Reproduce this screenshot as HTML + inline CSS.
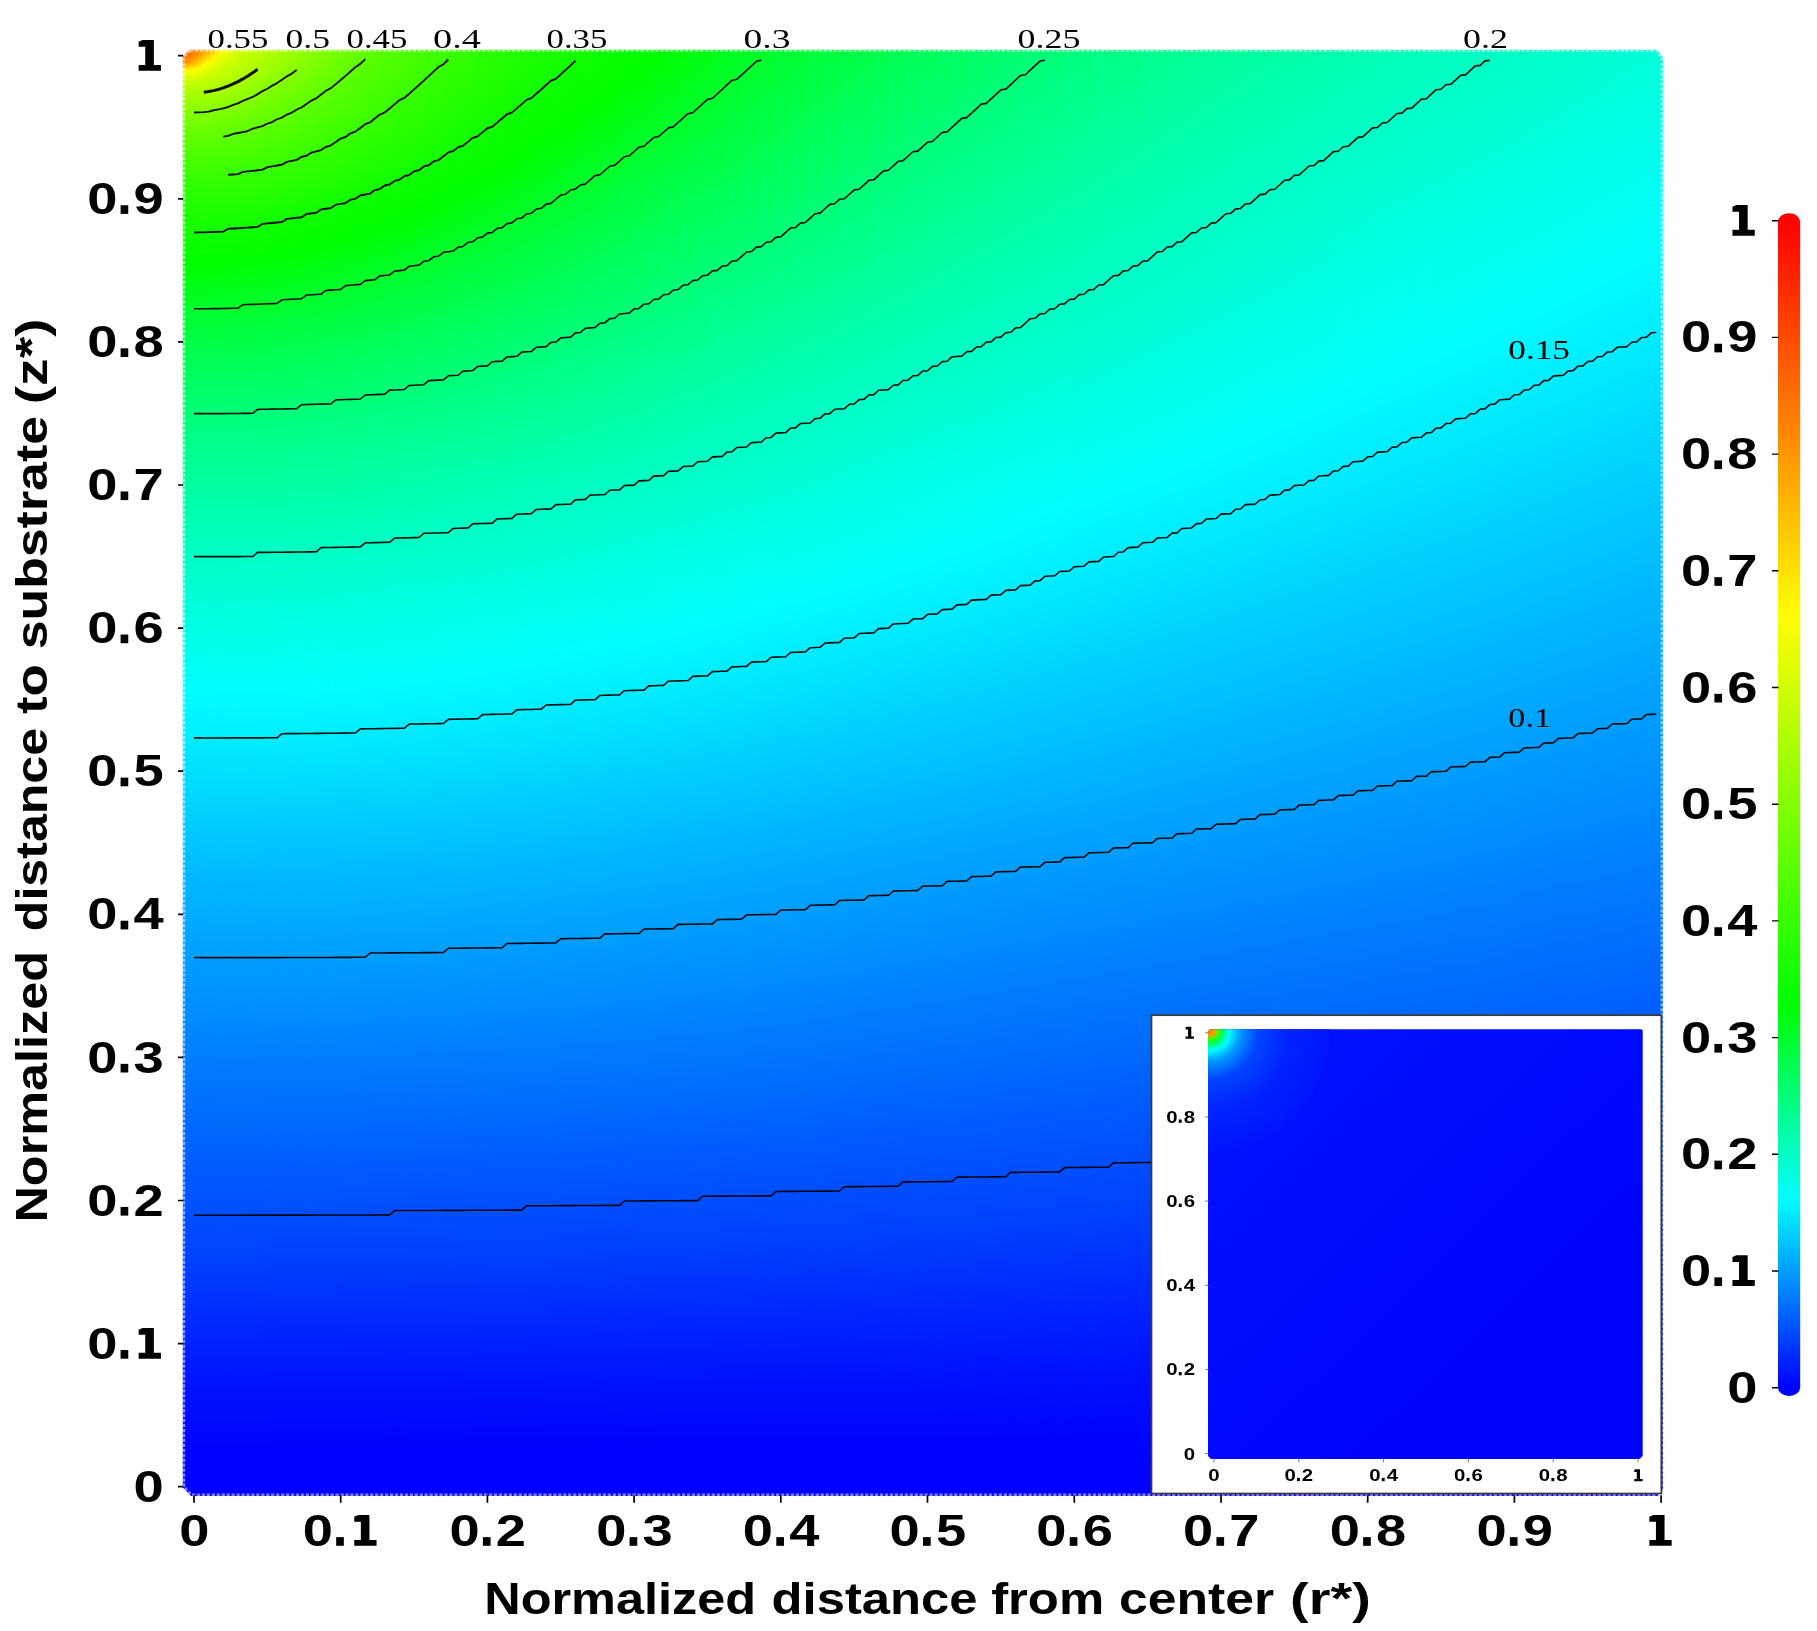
<!DOCTYPE html>
<html><head><meta charset="utf-8"><title>chart</title>
<style>
html,body{margin:0;padding:0;background:#fff}
#w{position:relative;width:1817px;height:1631px;overflow:hidden;background:#fff}
#h{position:absolute;left:182px;top:47px;width:1484px;height:1452px;clip-path:polygon(7.5px 2.7px,1475.0px 2.7px,1481.0px 10.5px,1481.0px 1443.0px,1475.5px 1449.0px,9.0px 1449.0px,0.8px 1440.5px,0.8px 9.5px);font-size:0;white-space:nowrap}
#h i{display:inline-block;width:4px;height:100%}
#s{position:absolute;left:0;top:0;will-change:transform}
</style></head><body><div id="w"><div id="h"><i style="background:linear-gradient(#ff6c00 0%,#ff7200 0.6887%,#ff7a00 0.8264%,#ff8f00 1.033%,#ff9600 1.102%,#ffa100 1.171%,#fff100 1.584%,#fffa00 1.653%,#fcff00 1.722%,#e3ff00 1.997%,#cdff00 2.342%,#b4ff00 2.893%,#97ff00 3.788%,#72ff00 5.303%,#53ff00 6.956%,#36ff00 9.022%,#17ff00 12.05%,#00ff01 14.94%,#00ff2f 18.32%,#00ff60 22.73%,#00ff90 27.96%,#00ffc4 34.92%,#00fffc 43.66%,#00fdff 44.56%,#00bfff 55.85%,#007dff 69.77%,#0041ff 83.4%,#01f 92.42%,#0003ff 96.56%,#00f 100%)"></i><i style="background:linear-gradient(#ff6e00 0%,#ff7200 0.4821%,#ff7a00 0.6887%,#ff8f00 0.9642%,#ff9e00 1.102%,#ffcf00 1.377%,#ffe900 1.515%,#fff400 1.584%,#fffd00 1.653%,#f3ff00 1.791%,#df0 2.066%,#c5ff00 2.479%,#af0 3.168%,#8cff00 4.201%,#68ff00 5.785%,#46ff00 7.782%,#2aff00 10.06%,#07ff00 13.98%,#00ff01 14.94%,#00ff2f 18.32%,#00ff60 22.73%,#00ff90 27.96%,#00ffc4 34.92%,#00fffc 43.66%,#00fdff 44.56%,#00bfff 55.85%,#007dff 69.77%,#0041ff 83.4%,#01f 92.42%,#0003ff 96.56%,#00f 100%)"></i><i style="background:linear-gradient(#ff7100 0%,#ff7a00 0.3444%,#ff8a00 0.6887%,#ff9600 0.8953%,#ffa500 1.033%,#ffc400 1.24%,#fff200 1.515%,#fffb00 1.584%,#fcff00 1.653%,#e4ff00 1.928%,#ceff00 2.273%,#b6ff00 2.824%,#95ff00 3.857%,#70ff00 5.372%,#51ff00 7.094%,#34ff00 9.16%,#15ff00 12.33%,#00ff01 14.94%,#00ff2f 18.32%,#00ff60 22.73%,#00ff90 27.96%,#00ffc4 34.92%,#00fffc 43.66%,#00fdff 44.56%,#00bfff 55.85%,#007dff 69.77%,#0041ff 83.4%,#01f 92.42%,#0003ff 96.56%,#00f 100%)"></i><i style="background:linear-gradient(#ff7e00 0%,#ff9100 0.551%,#ff9c00 0.7576%,#ffb900 1.033%,#ffcb00 1.171%,#fff500 1.446%,#fffc00 1.515%,#fbff00 1.584%,#dfff00 1.928%,#cf0 2.273%,#b3ff00 2.893%,#8fff00 4.063%,#6cff00 5.579%,#4bff00 7.438%,#2fff00 9.573%,#0fff00 13.02%,#00ff01 14.94%,#00ff2f 18.32%,#00ff60 22.73%,#00ff90 27.96%,#00ffc4 34.92%,#00fffc 43.66%,#00fdff 44.56%,#00bfff 55.85%,#007dff 69.77%,#0041ff 83.4%,#01f 92.42%,#0003ff 96.56%,#00f 100%)"></i><i style="background:linear-gradient(#ff8c00 0%,#f90 0.4132%,#ffa600 0.6198%,#ffbe00 0.8953%,#ffd800 1.102%,#fff300 1.309%,#feff00 1.446%,#e3ff00 1.791%,#cfff00 2.135%,#b7ff00 2.755%,#8cff00 4.201%,#68ff00 5.785%,#46ff00 7.782%,#2aff00 10.06%,#08ff00 13.84%,#00ff01 14.94%,#00ff2f 18.32%,#00ff60 22.73%,#00ff90 27.96%,#00ffc4 34.92%,#00fffc 43.66%,#00fdff 44.56%,#00bfff 55.85%,#007dff 69.77%,#0041ff 83.4%,#01f 92.42%,#0003ff 96.56%,#00f 100%)"></i><i style="background:linear-gradient(#ff9700 0%,#ffa300 0.2755%,#ffbf00 0.6887%,#fd0 0.9642%,#fff400 1.171%,#feff00 1.309%,#e0ff00 1.722%,#ceff00 2.066%,#b5ff00 2.755%,#87ff00 4.339%,#65ff00 5.923%,#43ff00 7.989%,#26ff00 10.47%,#03ff00 14.53%,#00ff01 14.94%,#00ff30 18.39%,#00ff61 22.8%,#00ff90 28.03%,#00ffc5 35.06%,#00fffd 43.87%,#00fcff 44.7%,#00bfff 55.99%,#007cff 69.97%,#0041ff 83.4%,#01f 92.42%,#0003ff 96.56%,#00f 100%)"></i><i style="background:linear-gradient(#ffa800 0%,#ffbf00 0.4132%,#ffd700 0.6887%,#fff800 1.033%,#fffd00 1.102%,#f7ff00 1.24%,#d8ff00 1.722%,#c4ff00 2.204%,#87ff00 4.339%,#64ff00 5.923%,#43ff00 7.989%,#26ff00 10.47%,#03ff00 14.46%,#00ff01 14.94%,#00ff30 18.39%,#00ff61 22.8%,#00ff90 28.03%,#00ffc5 35.06%,#00fffd 43.87%,#00fcff 44.7%,#00bfff 55.99%,#007cff 69.97%,#0041ff 83.4%,#01f 92.42%,#0003ff 96.56%,#00f 100%)"></i><i style="background:linear-gradient(#ffba00 0%,#ffc600 0.2066%,#fff800 0.8264%,#fdff00 0.9642%,#dbff00 1.515%,#c7ff00 1.997%,#82ff00 4.477%,#61ff00 6.061%,#40ff00 8.196%,#21ff00 10.88%,#0f0 14.81%,#00ff32 18.6%,#00ff63 23.07%,#00ff94 28.44%,#00ffc9 35.67%,#0ff 44.28%,#00c1ff 55.51%,#007eff 69.56%,#0041ff 83.4%,#01f 92.42%,#0003ff 96.56%,#00f 100%)"></i><i style="background:linear-gradient(#ffce00 0%,#fffa00 0.6198%,#fffe00 0.6887%,#d9ff00 1.377%,#c5ff00 1.928%,#7fff00 4.545%,#5eff00 6.198%,#3dff00 8.402%,#1eff00 11.23%,#00ff01 14.88%,#00ff30 18.39%,#00ff61 22.87%,#00ff91 28.17%,#00ffc6 35.26%,#00fffe 44.15%,#00b9ff 57.16%,#07f 71.21%,#0041ff 83.4%,#01f 92.42%,#0003ff 96.56%,#00f 100%)"></i><i style="background:linear-gradient(#ffe500 0%,#fffd00 0.4132%,#f9ff00 0.551%,#d7ff00 1.24%,#c3ff00 1.86%,#a1ff00 3.237%,#81ff00 4.408%,#60ff00 6.061%,#3eff00 8.264%,#1fff00 11.09%,#0f0 14.81%,#00ff2f 18.32%,#00ff61 22.8%,#00ff91 28.1%,#00ffc6 35.19%,#00fffe 44.08%,#00b5ff 57.92%,#0073ff 72.11%,#0041ff 83.4%,#01f 92.42%,#0003ff 96.56%,#00f 100%)"></i><i style="background:linear-gradient(#fff700 0%,#fffe00 0.1377%,#d4ff00 1.102%,#c0ff00 1.86%,#a2ff00 3.099%,#81ff00 4.339%,#5fff00 6.061%,#3dff00 8.333%,#1dff00 11.29%,#00ff01 14.81%,#00ff2f 18.32%,#00ff61 22.8%,#00ff91 28.1%,#00ffc6 35.19%,#00fffe 44.08%,#00b5ff 57.92%,#0073ff 72.18%,#0040ff 83.47%,#01f 92.42%,#0003ff 96.56%,#00f 100%)"></i><i style="background:linear-gradient(#f8ff00 0%,#d6ff00 0.8264%,#c2ff00 1.584%,#a5ff00 2.893%,#81ff00 4.27%,#5fff00 5.992%,#3dff00 8.333%,#1cff00 11.36%,#00ff01 14.81%,#00ff30 18.39%,#00ff62 22.87%,#00ff92 28.17%,#00ffc7 35.33%,#0ff 44.21%,#00beff 56.2%,#007bff 70.32%,#0041ff 83.4%,#01f 92.42%,#0003ff 96.56%,#00f 100%)"></i><i style="background:linear-gradient(#ebff00 0%,#d3ff00 0.6887%,#bdff00 1.653%,#a6ff00 2.755%,#82ff00 4.132%,#61ff00 5.854%,#3eff00 8.196%,#1dff00 11.23%,#0f0 14.74%,#00ff30 18.32%,#00ff62 22.87%,#00ff92 28.24%,#00ffc8 35.47%,#0ff 44.21%,#00beff 56.2%,#007aff 70.39%,#0041ff 83.4%,#01f 92.42%,#0003ff 96.56%,#00f 100%)"></i><i style="background:linear-gradient(#e0ff00 0%,#cf0 0.6887%,#a7ff00 2.617%,#81ff00 4.063%,#60ff00 5.854%,#3dff00 8.264%,#1bff00 11.43%,#00ff01 14.74%,#00ff30 18.32%,#00ff62 22.87%,#00ff92 28.24%,#00ffc8 35.47%,#0ff 44.21%,#00beff 56.13%,#007bff 70.32%,#0041ff 83.4%,#01f 92.42%,#0003ff 96.56%,#00f 100%)"></i><i style="background:linear-gradient(#d6ff00 0%,#c2ff00 0.9642%,#a8ff00 2.41%,#80ff00 3.994%,#5fff00 5.854%,#3cff00 8.333%,#19ff00 11.57%,#0f0 14.67%,#00ff30 18.25%,#00ff61 22.8%,#00ff92 28.17%,#00ffc7 35.4%,#0ff 44.21%,#00beff 56.06%,#007bff 70.32%,#0041ff 83.4%,#01f 92.42%,#0003ff 96.56%,#00f 100%)"></i><i style="background:linear-gradient(#cfff00 0%,#a8ff00 2.273%,#81ff00 3.857%,#5eff00 5.785%,#3bff00 8.333%,#18ff00 11.64%,#00ff01 14.67%,#00ff31 18.32%,#00ff62 22.87%,#00ff92 28.24%,#00ffc8 35.47%,#0ff 44.21%,#00bfff 55.99%,#007bff 70.25%,#0041ff 83.4%,#01f 92.42%,#0003ff 96.56%,#00f 100%)"></i><i style="background:linear-gradient(#c9ff00 0%,#af0 1.997%,#80ff00 3.788%,#5dff00 5.785%,#39ff00 8.471%,#16ff00 11.85%,#0f0 14.6%,#00ff30 18.25%,#00ff62 22.8%,#00ff92 28.17%,#00ffc8 35.4%,#0ff 44.21%,#00bfff 55.92%,#007bff 70.25%,#0041ff 83.4%,#01f 92.42%,#0003ff 96.56%,#00f 100%)"></i><i style="background:linear-gradient(#c5ff00 0%,#abff00 1.791%,#80ff00 3.65%,#5cff00 5.785%,#37ff00 8.54%,#14ff00 11.98%,#00ff01 14.6%,#00ff31 18.25%,#00ff63 22.87%,#00ff93 28.31%,#00ffc9 35.61%,#0ff 44.21%,#00c0ff 55.79%,#007cff 70.11%,#0041ff 83.4%,#01f 92.42%,#0003ff 96.56%,#00f 100%)"></i><i style="background:linear-gradient(#c1ff00 0%,#abff00 1.584%,#7fff00 3.581%,#5bff00 5.785%,#36ff00 8.609%,#13ff00 12.05%,#0f0 14.53%,#00ff30 18.18%,#00ff62 22.8%,#00ff93 28.24%,#00ffc9 35.54%,#0ff 44.21%,#00c0ff 55.65%,#007cff 70.04%,#0041ff 83.4%,#01f 92.42%,#0003ff 96.56%,#00f 100%)"></i><i style="background:linear-gradient(#bdff00 0%,#a9ff00 1.515%,#80ff00 3.375%,#5bff00 5.647%,#35ff00 8.609%,#13ff00 12.05%,#00ff01 14.53%,#00ff31 18.25%,#00ff63 22.87%,#00ff94 28.37%,#00ffca 35.74%,#0ff 44.21%,#00c1ff 55.51%,#007cff 69.97%,#0041ff 83.4%,#01f 92.42%,#0003ff 96.56%,#00f 100%)"></i><i style="background:linear-gradient(#baff00 0%,#a7ff00 1.377%,#80ff00 3.237%,#5aff00 5.647%,#34ff00 8.678%,#1f0 12.19%,#00ff01 14.46%,#00ff31 18.18%,#00ff63 22.8%,#00ff94 28.31%,#00ffca 35.67%,#0ff 44.21%,#00c1ff 55.44%,#007dff 69.9%,#0041ff 83.4%,#01f 92.42%,#0003ff 96.56%,#00f 100%)"></i><i style="background:linear-gradient(#b7ff00 0%,#a6ff00 1.24%,#80ff00 3.099%,#58ff00 5.647%,#31ff00 8.884%,#10ff00 12.33%,#0f0 14.39%,#00ff31 18.11%,#00ff62 22.73%,#00ff93 28.24%,#00ffc9 35.61%,#0ff 44.21%,#00c1ff 55.44%,#007cff 69.97%,#0040ff 83.4%,#01f 92.42%,#0003ff 96.56%,#00f 100%)"></i><i style="background:linear-gradient(#b4ff00 0%,#a3ff00 1.171%,#7fff00 2.961%,#58ff00 5.579%,#30ff00 8.953%,#0fff00 12.4%,#00ff01 14.39%,#00ff31 18.11%,#00ff63 22.8%,#00ff95 28.37%,#00ffcb 35.81%,#0ff 44.21%,#00c1ff 55.44%,#007cff 69.97%,#0040ff 83.4%,#01f 92.42%,#0003ff 96.56%,#00f 100%)"></i><i style="background:linear-gradient(#b0ff00 0%,#a0ff00 1.102%,#7eff00 2.893%,#56ff00 5.647%,#2cff00 9.229%,#0dff00 12.6%,#00ff01 14.33%,#00ff32 18.11%,#00ff64 22.8%,#00ff95 28.44%,#0fc 35.95%,#0ff 44.21%,#00c1ff 55.44%,#007cff 70.04%,#0040ff 83.4%,#01f 92.36%,#0003ff 96.49%,#00f 100%)"></i><i style="background:linear-gradient(#adff00 0%,#9aff00 1.171%,#7bff00 2.893%,#53ff00 5.716%,#28ff00 9.573%,#09ff00 12.95%,#00ff01 14.26%,#00ff31 18.04%,#00ff63 22.73%,#00ff95 28.37%,#0fc 35.88%,#0ff 44.21%,#00c1ff 55.44%,#007cff 70.04%,#0040ff 83.4%,#01f 92.36%,#0003ff 96.49%,#00f 100%)"></i><i style="background:linear-gradient(#a9ff00 0%,#76ff00 3.099%,#4eff00 5.992%,#20ff00 10.26%,#02ff00 13.84%,#00ff01 14.26%,#00ff32 18.04%,#00ff64 22.8%,#00ff96 28.51%,#00ffcd 36.09%,#0ff 44.21%,#00c1ff 55.51%,#007bff 70.18%,#0040ff 83.4%,#01f 92.36%,#0003ff 96.49%,#00f 100%)"></i><i style="background:linear-gradient(#a5ff00 0%,#75ff00 2.961%,#4fff00 5.854%,#1eff00 10.4%,#0f0 14.05%,#00ff37 18.46%,#00ff69 23.28%,#00ff9b 29.13%,#00ffd3 36.91%,#0ff 44.21%,#00c1ff 55.51%,#007bff 70.18%,#0040ff 83.4%,#01f 92.36%,#0003ff 96.49%,#00f 100%)"></i><i style="background:linear-gradient(#a1ff00 0%,#71ff00 3.099%,#4bff00 6.061%,#1aff00 10.81%,#00ff01 14.12%,#00ff31 17.91%,#00ff64 22.66%,#00ff96 28.37%,#0fc 35.95%,#0ff 44.15%,#00c1ff 55.44%,#007bff 70.18%,#0040ff 83.4%,#01f 92.36%,#0003ff 96.49%,#00f 100%)"></i><i style="background:linear-gradient(#9dff00 0%,#65ff00 3.788%,#3cff00 7.3%,#13ff00 11.5%,#00ff01 14.05%,#00ff32 17.91%,#00ff65 22.73%,#00ff97 28.51%,#00ffce 36.16%,#0ff 44.15%,#00c1ff 55.44%,#007bff 70.18%,#0040ff 83.4%,#01f 92.36%,#0003ff 96.49%,#00f 100%)"></i><i style="background:linear-gradient(#9f0 0%,#5eff00 4.201%,#2fff00 8.471%,#0dff00 12.12%,#00ff01 13.98%,#00ff32 17.84%,#00ff64 22.66%,#00ff97 28.51%,#00ffce 36.16%,#0ff 44.15%,#00c1ff 55.44%,#007bff 70.25%,#0040ff 83.4%,#01f 92.36%,#0003ff 96.49%,#00f 100%)"></i><i style="background:linear-gradient(#95ff00 0%,#5bff00 4.27%,#28ff00 9.091%,#09ff00 12.6%,#00ff01 13.91%,#00ff31 17.77%,#00ff64 22.59%,#00ff97 28.44%,#00ffce 36.09%,#0ff 44.15%,#00c1ff 55.44%,#007bff 70.25%,#0040ff 83.4%,#01f 92.36%,#0003ff 96.49%,#00f 100%)"></i><i style="background:linear-gradient(#91ff00 0%,#58ff00 4.339%,#21ff00 9.642%,#03ff00 13.36%,#00ff01 13.84%,#00ff31 17.7%,#00ff64 22.52%,#00ff96 28.37%,#00ffce 36.02%,#00feff 44.15%,#00c1ff 55.44%,#007bff 70.32%,#0040ff 83.4%,#01f 92.36%,#0003ff 96.49%,#00f 100%)"></i><i style="background:linear-gradient(#8dff00 0%,#56ff00 4.408%,#1cff00 10.12%,#00ff01 13.77%,#00ff31 17.63%,#00ff64 22.52%,#00ff97 28.44%,#00ffcf 36.16%,#00feff 44.15%,#00c1ff 55.51%,#007aff 70.39%,#0040ff 83.4%,#01f 92.36%,#0003ff 96.49%,#00f 100%)"></i><i style="background:linear-gradient(#89ff00 0%,#52ff00 4.545%,#18ff00 10.54%,#00ff01 13.71%,#00ff31 17.56%,#00ff64 22.45%,#00ff97 28.37%,#00ffce 36.09%,#0ff 44.08%,#00c1ff 55.44%,#007aff 70.39%,#0040ff 83.4%,#01f 92.36%,#0003ff 96.49%,#00f 100%)"></i><i style="background:linear-gradient(#85ff00 0%,#50ff00 4.614%,#16ff00 10.67%,#00ff01 13.64%,#00ff32 17.56%,#00ff64 22.45%,#00ff98 28.44%,#00ffcf 36.16%,#0ff 44.08%,#00c1ff 55.44%,#007aff 70.39%,#0040ff 83.4%,#01f 92.36%,#0003ff 96.49%,#00f 100%)"></i><i style="background:linear-gradient(#82ff00 0%,#4eff00 4.614%,#14ff00 10.74%,#00ff01 13.57%,#00ff32 17.49%,#00ff65 22.45%,#0f9 28.51%,#00ffd0 36.29%,#00feff 44.08%,#00c1ff 55.44%,#007aff 70.45%,#0040ff 83.4%,#01f 92.36%,#0003ff 96.49%,#00f 100%)"></i><i style="background:linear-gradient(#7fff00 0%,#4bff00 4.752%,#13ff00 10.81%,#00ff01 13.5%,#00ff32 17.42%,#00ff65 22.38%,#00ff98 28.44%,#00ffd0 36.23%,#00feff 44.08%,#00c1ff 55.44%,#007aff 70.45%,#0040ff 83.4%,#01f 92.36%,#0003ff 96.49%,#00f 100%)"></i><i style="background:linear-gradient(#7cff00 0%,#48ff00 4.959%,#12ff00 10.88%,#00ff01 13.43%,#00ff32 17.36%,#00ff64 22.31%,#0f9 28.44%,#00ffd0 36.23%,#0ff 44.01%,#00c1ff 55.37%,#007aff 70.45%,#0040ff 83.4%,#01f 92.36%,#0003ff 96.49%,#00f 100%)"></i><i style="background:linear-gradient(#79ff00 0%,#43ff00 5.234%,#1f0 10.95%,#00ff01 13.36%,#00ff32 17.29%,#00ff65 22.31%,#0f9 28.51%,#00ffd1 36.36%,#00feff 44.01%,#00c1ff 55.37%,#007aff 70.45%,#0040ff 83.4%,#01f 92.36%,#0003ff 96.49%,#00f 100%)"></i><i style="background:linear-gradient(#76ff00 0%,#3dff00 5.785%,#0fff00 11.09%,#0f0 13.22%,#00ff31 17.15%,#00ff64 22.18%,#0f9 28.37%,#00ffd0 36.23%,#00feff 44.01%,#00c0ff 55.44%,#0079ff 70.59%,#0040ff 83.4%,#01f 92.36%,#0003ff 96.49%,#00f 100%)"></i><i style="background:linear-gradient(#73ff00 0%,#35ff00 6.474%,#0dff00 11.29%,#00ff01 13.15%,#00ff32 17.15%,#00ff65 22.25%,#00ff9a 28.51%,#00ffd2 36.43%,#00feff 44.01%,#00c0ff 55.44%,#0079ff 70.66%,#0040ff 83.4%,#01f 92.36%,#0003ff 96.49%,#00f 100%)"></i><i style="background:linear-gradient(#70ff00 0%,#2aff00 7.576%,#07ff00 11.98%,#00ff01 13.09%,#00ff32 17.08%,#00ff65 22.18%,#00ff9a 28.51%,#00ffd2 36.43%,#00feff 43.94%,#00c1ff 55.37%,#0079ff 70.59%,#0040ff 83.33%,#01f 92.36%,#0003ff 96.49%,#00f 100%)"></i><i style="background:linear-gradient(#6dff00 0%,#1fff00 8.747%,#0f0 12.95%,#00ff31 16.94%,#00ff64 22.04%,#00ff9a 28.37%,#00ffd1 36.29%,#00feff 43.94%,#00c1ff 55.37%,#0079ff 70.66%,#0040ff 83.33%,#01f 92.36%,#0003ff 96.49%,#00f 100%)"></i><i style="background:linear-gradient(#6bff00 0%,#18ff00 9.504%,#00ff01 12.88%,#00ff31 16.87%,#00ff65 22.04%,#00ff9a 28.44%,#00ffd2 36.43%,#00feff 43.94%,#00c0ff 55.37%,#0079ff 70.66%,#0040ff 83.33%,#01f 92.36%,#0003ff 96.49%,#00f 100%)"></i><i style="background:linear-gradient(#68ff00 0%,#13ff00 9.986%,#00ff01 12.81%,#00ff31 16.8%,#00ff65 21.97%,#00ff9b 28.44%,#00ffd3 36.43%,#00feff 43.87%,#00c0ff 55.37%,#0078ff 70.73%,#0040ff 83.33%,#01f 92.36%,#0003ff 96.49%,#00f 100%)"></i><i style="background:linear-gradient(#65ff00 0%,#1f0 10.19%,#00ff01 12.74%,#00ff32 16.8%,#0f6 22.04%,#00ff9c 28.58%,#00ffd4 36.64%,#00feff 43.87%,#00c0ff 55.37%,#0078ff 70.73%,#0040ff 83.33%,#01f 92.36%,#0003ff 96.49%,#00f 100%)"></i><i style="background:linear-gradient(#63ff00 0%,#10ff00 10.19%,#00ff01 12.6%,#00ff31 16.67%,#00ff65 21.9%,#00ff9b 28.44%,#00ffd4 36.5%,#00feff 43.87%,#00c0ff 55.37%,#0078ff 70.8%,#0040ff 83.33%,#01f 92.36%,#0003ff 96.49%,#00f 100%)"></i><i style="background:linear-gradient(#61ff00 0%,#0fff00 10.26%,#00ff01 12.53%,#00ff31 16.6%,#0f6 21.9%,#00ff9c 28.51%,#00ffd5 36.64%,#00feff 43.8%,#00c0ff 55.3%,#0078ff 70.8%,#0040ff 83.33%,#01f 92.36%,#0003ff 96.49%,#00f 100%)"></i><i style="background:linear-gradient(#5eff00 0%,#0eff00 10.33%,#0f0 12.4%,#00ff31 16.46%,#00ff65 21.76%,#00ff9c 28.44%,#00ffd4 36.57%,#00feff 43.8%,#00c0ff 55.37%,#07f 70.87%,#0040ff 83.33%,#01f 92.36%,#0003ff 96.49%,#00f 100%)"></i><i style="background:linear-gradient(#5cff00 0%,#0dff00 10.33%,#00ff01 12.33%,#00ff31 16.39%,#0f6 21.76%,#00ff9d 28.51%,#00ffd5 36.64%,#00feff 43.8%,#00c0ff 55.37%,#07f 70.94%,#0040ff 83.33%,#01f 92.36%,#0003ff 96.49%,#00f 100%)"></i><i style="background:linear-gradient(#5aff00 0%,#0cff00 10.4%,#00ff01 12.26%,#00ff32 16.39%,#00ff67 21.83%,#00ff9e 28.65%,#00ffd7 36.85%,#00feff 43.73%,#00c0ff 55.3%,#07f 70.87%,#0040ff 83.33%,#01f 92.36%,#0003ff 96.49%,#00f 100%)"></i><i style="background:linear-gradient(#58ff00 0%,#0aff00 10.47%,#00ff01 12.12%,#00ff31 16.25%,#0f6 21.69%,#00ff9e 28.51%,#00ffd6 36.71%,#00feff 43.73%,#00c0ff 55.3%,#07f 70.94%,#0040ff 83.33%,#01f 92.29%,#0003ff 96.42%,#00f 100%)"></i><i style="background:linear-gradient(#56ff00 0%,#09ff00 10.54%,#0f0 11.98%,#00ff31 16.12%,#0f6 21.63%,#00ff9e 28.51%,#00ffd7 36.78%,#00feff 43.66%,#00c0ff 55.23%,#07f 70.87%,#0040ff 83.33%,#01f 92.29%,#0003ff 96.42%,#00f 100%)"></i><i style="background:linear-gradient(#54ff00 0%,#08ff00 10.61%,#00ff01 11.91%,#00ff31 16.05%,#0f6 21.56%,#00ff9f 28.51%,#00ffd7 36.78%,#00feff 43.66%,#00c0ff 55.3%,#07f 71.01%,#0040ff 83.33%,#01f 92.29%,#0003ff 96.42%,#00f 100%)"></i><i style="background:linear-gradient(#52ff00 0%,#06ff00 10.74%,#00ff01 11.78%,#00ff31 15.98%,#00ff67 21.56%,#00ff9f 28.58%,#00ffd8 36.91%,#00feff 43.66%,#00c0ff 55.3%,#0076ff 71.07%,#0040ff 83.33%,#01f 92.29%,#0003ff 96.42%,#00f 100%)"></i><i style="background:linear-gradient(#50ff00 0%,#05ff00 10.88%,#00ff01 11.71%,#00ff32 15.91%,#00ff67 21.56%,#00ffa0 28.65%,#00ffd9 36.98%,#00feff 43.6%,#00c0ff 55.23%,#07f 71.01%,#0040ff 83.33%,#01f 92.29%,#0003ff 96.49%,#00f 100%)"></i><i style="background:linear-gradient(#4eff00 0%,#02ff00 11.16%,#00ff01 11.57%,#00ff31 15.77%,#00ff67 21.42%,#00ffa0 28.58%,#00ffd9 36.98%,#00feff 43.6%,#00c0ff 55.3%,#0076ff 71.14%,#0040ff 83.33%,#01f 92.29%,#0003ff 96.49%,#00f 100%)"></i><i style="background:linear-gradient(#4cff00 0%,#0f0 11.36%,#00ff32 15.77%,#00ff68 21.49%,#00ffa2 28.72%,#00ffda 37.12%,#00feff 43.53%,#00c0ff 55.23%,#0076ff 71.07%,#0040ff 83.26%,#01f 92.29%,#0003ff 96.49%,#00f 100%)"></i><i style="background:linear-gradient(#4aff00 0%,#0f0 11.29%,#00ff31 15.56%,#00ff67 21.35%,#00ffa1 28.65%,#00ffda 37.12%,#00feff 43.53%,#00c0ff 55.23%,#0076ff 71.14%,#0040ff 83.26%,#01f 92.29%,#0003ff 96.49%,#00f 100%)"></i><i style="background:linear-gradient(#48ff00 0%,#0f0 11.16%,#00ff31 15.43%,#00ff67 21.21%,#00ffa1 28.58%,#00ffda 37.05%,#00feff 43.46%,#00c0ff 55.23%,#0075ff 71.21%,#0040ff 83.26%,#01f 92.29%,#0003ff 96.49%,#00f 100%)"></i><i style="background:linear-gradient(#47ff00 0%,#00ff01 11.09%,#00ff32 15.43%,#00ff68 21.28%,#00ffa3 28.72%,#00ffdc 37.26%,#00feff 43.46%,#00bfff 55.23%,#0075ff 71.21%,#0040ff 83.26%,#01f 92.29%,#0003ff 96.49%,#00f 100%)"></i><i style="background:linear-gradient(#45ff00 0%,#00ff01 10.95%,#00ff31 15.29%,#00ff68 21.21%,#00ffa3 28.72%,#00ffdc 37.26%,#00feff 43.39%,#00c0ff 55.17%,#0075ff 71.21%,#0040ff 83.26%,#01f 92.29%,#0003ff 96.49%,#00f 100%)"></i><i style="background:linear-gradient(#43ff00 0%,#00ff01 10.81%,#00ff31 15.15%,#00ff68 21.14%,#00ffa4 28.72%,#0fd 37.33%,#00feff 43.39%,#00bfff 55.23%,#0075ff 71.35%,#0040ff 83.26%,#01f 92.29%,#0003ff 96.49%,#00f 100%)"></i><i style="background:linear-gradient(#41ff00 0%,#0f0 10.67%,#00ff31 15.08%,#00ff69 21.14%,#00ffa5 28.79%,#00ffde 37.47%,#00feff 43.32%,#00bfff 55.17%,#0075ff 71.28%,#0040ff 83.26%,#01f 92.29%,#0003ff 96.49%,#00f 100%)"></i><i style="background:linear-gradient(#3fff00 0%,#00ff01 10.61%,#00ff32 15.01%,#00ff6a 21.14%,#00ffa5 28.86%,#00ffdf 37.53%,#00feff 43.32%,#00bfff 55.17%,#0075ff 71.35%,#0040ff 83.26%,#01f 92.29%,#0003ff 96.49%,#00f 100%)"></i><i style="background:linear-gradient(#3eff00 0%,#00ff01 10.47%,#00ff32 14.94%,#00ff6a 21.14%,#00ffa6 28.93%,#00ffe0 37.67%,#00feff 43.25%,#00c0ff 55.1%,#0075ff 71.28%,#0040ff 83.26%,#01f 92.29%,#0003ff 96.49%,#00f 100%)"></i><i style="background:linear-gradient(#3cff00 0%,#00ff01 10.33%,#00ff32 14.81%,#00ff6a 21.07%,#00ffa7 28.93%,#00ffe0 37.74%,#00feff 43.25%,#00bfff 55.17%,#0074ff 71.42%,#0040ff 83.26%,#01f 92.29%,#0003ff 96.49%,#00f 100%)"></i><i style="background:linear-gradient(#3aff00 0%,#00ff01 10.19%,#00ff32 14.67%,#00ff6b 21.01%,#00ffa7 28.93%,#00ffe1 37.74%,#00feff 43.18%,#00bfff 55.1%,#0074ff 71.42%,#0040ff 83.26%,#01f 92.29%,#0003ff 96.49%,#00f 100%)"></i><i style="background:linear-gradient(#39ff00 0%,#00ff01 10.06%,#00ff32 14.6%,#00ff6b 21.01%,#00ffa9 29.06%,#00ffe3 38.02%,#00feff 43.18%,#00bfff 55.17%,#0074ff 71.49%,#0040ff 83.2%,#01f 92.29%,#0003ff 96.49%,#00f 100%)"></i><i style="background:linear-gradient(#37ff00 0%,#00ff01 9.917%,#00ff32 14.46%,#00ff6b 20.94%,#00ffa9 29.06%,#00ffe3 38.02%,#00feff 43.11%,#00bfff 55.1%,#0074ff 71.49%,#0040ff 83.2%,#01f 92.29%,#0003ff 96.49%,#00f 100%)"></i><i style="background:linear-gradient(#36ff00 0%,#00ff01 9.78%,#00ff32 14.39%,#00ff6c 20.94%,#0fa 29.13%,#00ffe4 38.15%,#00feff 43.04%,#00bfff 55.03%,#0074ff 71.49%,#0040ff 83.2%,#01f 92.29%,#0003ff 96.49%,#00f 100%)"></i><i style="background:linear-gradient(#34ff00 0%,#0f0 9.573%,#00ff32 14.26%,#00ff6c 20.87%,#0fa 29.13%,#00ffe5 38.22%,#00feff 43.04%,#00bfff 55.1%,#0073ff 71.56%,#0040ff 83.2%,#01f 92.29%,#0003ff 96.49%,#00f 100%)"></i><i style="background:linear-gradient(#3f0 0%,#00ff01 9.435%,#00ff32 14.12%,#00ff6c 20.8%,#00ffab 29.13%,#00ffe5 38.29%,#00feff 42.98%,#00bfff 55.03%,#0073ff 71.56%,#0040ff 83.2%,#01f 92.22%,#0003ff 96.42%,#00f 100%)"></i><i style="background:linear-gradient(#31ff00 0%,#00ff01 9.298%,#00ff32 14.05%,#00ff6d 20.8%,#00ffac 29.2%,#00ffe6 38.43%,#00feff 42.98%,#00beff 55.1%,#0072ff 71.69%,#0040ff 83.2%,#01f 92.22%,#0003ff 96.42%,#00f 100%)"></i><i style="background:linear-gradient(#30ff00 0%,#00ff01 9.16%,#00ff32 13.91%,#00ff6d 20.73%,#00ffac 29.2%,#00ffe7 38.43%,#00feff 42.91%,#00bfff 55.03%,#0073ff 71.63%,#0040ff 83.2%,#01f 92.22%,#0003ff 96.42%,#00f 100%)"></i><i style="background:linear-gradient(#2eff00 0%,#00ff01 9.022%,#0f3 13.84%,#00ff6f 20.8%,#00ffae 29.41%,#00ffe9 38.77%,#00feff 42.84%,#00bfff 54.96%,#0073ff 71.63%,#0040ff 83.2%,#01f 92.22%,#0003ff 96.42%,#00f 100%)"></i><i style="background:linear-gradient(#2dff00 0%,#00ff01 8.884%,#0f3 13.71%,#00ff6f 20.73%,#00ffaf 29.41%,#00ffea 38.84%,#00feff 42.84%,#00beff 55.03%,#0072ff 71.76%,#0040ff 83.2%,#01f 92.22%,#0003ff 96.42%,#00f 100%)"></i><i style="background:linear-gradient(#2cff00 0%,#00ff01 8.678%,#00ff32 13.57%,#00ff6f 20.66%,#00ffaf 29.41%,#00ffea 38.91%,#00feff 42.77%,#00bfff 54.96%,#0072ff 71.69%,#0040ff 83.13%,#01f 92.22%,#0003ff 96.42%,#00f 100%)"></i><i style="background:linear-gradient(#2aff00 0%,#00ff01 8.54%,#0f3 13.5%,#00ff70 20.73%,#00ffb0 29.55%,#00ffec 39.12%,#00feff 42.77%,#00beff 55.03%,#0072ff 71.83%,#0040ff 83.13%,#01f 92.22%,#0003ff 96.42%,#00f 100%)"></i><i style="background:linear-gradient(#29ff00 0%,#00ff01 8.402%,#0f3 13.36%,#00ff70 20.66%,#00ffb1 29.55%,#00ffec 39.19%,#00feff 42.7%,#00beff 54.96%,#0071ff 71.83%,#0040ff 83.13%,#01f 92.22%,#0003ff 96.42%,#00f 100%)"></i><i style="background:linear-gradient(#28ff00 0%,#00ff01 8.196%,#0f3 13.22%,#00ff71 20.59%,#00ffb1 29.55%,#00ffed 39.26%,#00feff 42.63%,#00beff 54.89%,#0072ff 71.76%,#0040ff 83.13%,#01f 92.22%,#0003ff 96.42%,#00f 100%)"></i><i style="background:linear-gradient(#26ff00 0%,#00ff01 8.058%,#0f3 13.15%,#00ff72 20.66%,#00ffb3 29.68%,#00ffef 39.53%,#00feff 42.63%,#00beff 54.96%,#0071ff 71.9%,#0040ff 83.13%,#01f 92.22%,#0003ff 96.42%,#00f 100%)"></i><i style="background:linear-gradient(#25ff00 0%,#00ff01 7.92%,#0f3 13.02%,#00ff72 20.59%,#00ffb4 29.75%,#00fff0 39.67%,#00feff 42.56%,#00beff 54.89%,#0071ff 71.9%,#0040ff 83.13%,#01f 92.22%,#0003ff 96.42%,#00f 100%)"></i><i style="background:linear-gradient(#24ff00 0%,#00ff01 7.713%,#0f3 12.88%,#00ff73 20.59%,#00ffb5 29.82%,#00fff1 39.81%,#00feff 42.49%,#00beff 54.89%,#0071ff 71.9%,#0040ff 83.13%,#01f 92.22%,#0003ff 96.42%,#00f 100%)"></i><i style="background:linear-gradient(#23ff00 0%,#00ff01 7.576%,#00ff34 12.81%,#00ff74 20.66%,#00ffb6 29.96%,#00fff3 40.08%,#00feff 42.49%,#00beff 54.89%,#0071ff 71.97%,#0040ff 83.13%,#01f 92.22%,#0003ff 96.42%,#00f 100%)"></i><i style="background:linear-gradient(#2f0 0%,#00ff01 7.369%,#00ff34 12.67%,#00ff74 20.59%,#00ffb6 29.96%,#00fff4 40.15%,#00feff 42.42%,#00beff 54.89%,#0070ff 72.04%,#0040ff 83.13%,#01f 92.22%,#0003ff 96.42%,#00f 100%)"></i><i style="background:linear-gradient(#21ff00 0%,#00ff01 7.231%,#00ff34 12.6%,#00ff75 20.66%,#00ffb8 30.1%,#00fff5 40.36%,#00feff 42.36%,#00beff 54.82%,#0070ff 71.97%,#0040ff 83.06%,#01f 92.22%,#0003ff 96.42%,#00f 100%)"></i><i style="background:linear-gradient(#1fff00 0%,#00ff01 7.025%,#00ff34 12.47%,#00ff76 20.66%,#00ffb9 30.17%,#00fff7 40.56%,#00feff 42.36%,#00bdff 54.89%,#0070ff 72.11%,#0040ff 83.06%,#01f 92.22%,#0003ff 96.42%,#00f 100%)"></i><i style="background:linear-gradient(#1eff00 0%,#00ff01 6.818%,#00ff34 12.33%,#0f7 20.66%,#00ffba 30.23%,#00fff8 40.7%,#00feff 42.29%,#00beff 54.82%,#0070ff 72.11%,#0040ff 83.06%,#01f 92.22%,#0003ff 96.42%,#00f 100%)"></i><i style="background:linear-gradient(#1dff00 0%,#00ff01 6.68%,#00ff34 12.19%,#0f7 20.59%,#00ffba 30.23%,#00fff8 40.77%,#00feff 42.22%,#00bdff 54.82%,#0070ff 72.11%,#0040ff 83.06%,#01f 92.22%,#0003ff 96.42%,#00f 100%)"></i><i style="background:linear-gradient(#1cff00 0%,#00ff01 6.474%,#00ff35 12.12%,#00ff78 20.66%,#0fb 30.37%,#00fffa 41.05%,#00feff 42.22%,#00bdff 54.89%,#006fff 72.25%,#0040ff 83.06%,#01f 92.15%,#0003ff 96.42%,#00f 100%)"></i><i style="background:linear-gradient(#1bff00 0%,#00ff01 6.336%,#00ff35 11.98%,#00ff79 20.66%,#00ffbc 30.37%,#00fffb 41.12%,#00fdff 42.22%,#00bdff 54.89%,#006fff 72.31%,#0040ff 83.06%,#01f 92.15%,#0003ff 96.42%,#00f 100%)"></i><i style="background:linear-gradient(#1aff00 0%,#00ff01 6.129%,#00ff36 11.91%,#00ff7a 20.73%,#00ffbd 30.51%,#00fffc 41.32%,#00fdff 42.22%,#00bcff 54.96%,#006eff 72.45%,#0040ff 83.06%,#01f 92.15%,#0003ff 96.42%,#00f 100%)"></i><i style="background:linear-gradient(#19ff00 0%,#00ff01 5.923%,#00ff36 11.78%,#00ff7b 20.73%,#00ffbe 30.58%,#00fffe 41.53%,#00f9ff 42.91%,#00b7ff 55.92%,#0069ff 73.62%,#003fff 83.13%,#01f 92.15%,#0003ff 96.42%,#00f 100%)"></i><i style="background:linear-gradient(#18ff00 0%,#00ff01 5.716%,#00ff36 11.64%,#00ff7c 20.73%,#00ffbf 30.65%,#0ff 41.67%,#00b8ff 55.79%,#0069ff 73.55%,#003fff 83.13%,#01f 92.15%,#0003ff 96.42%,#00f 100%)"></i><i style="background:linear-gradient(#17ff00 0%,#00ff01 5.579%,#00ff36 11.57%,#00ff7d 20.8%,#00ffc0 30.72%,#0ff 41.67%,#00bcff 54.89%,#006dff 72.52%,#0040ff 82.99%,#01f 92.15%,#0003ff 96.42%,#00f 100%)"></i><i style="background:linear-gradient(#16ff00 0%,#00ff01 5.372%,#00ff37 11.43%,#00ff7e 20.8%,#00ffc1 30.79%,#0ff 41.6%,#0bf 55.17%,#006bff 72.93%,#003fff 83.06%,#01f 92.15%,#0003ff 96.42%,#00f 100%)"></i><i style="background:linear-gradient(#15ff00 0%,#00ff01 5.165%,#00ff37 11.36%,#00ff80 20.94%,#00ffc2 30.92%,#0ff 41.6%,#00beff 54.41%,#006fff 72.11%,#0040ff 82.99%,#01f 92.15%,#0003ff 96.42%,#00f 100%)"></i><i style="background:linear-gradient(#14ff00 0%,#00ff01 4.959%,#00ff37 11.23%,#00ff80 20.94%,#00ffc3 30.99%,#0ff 41.53%,#00bdff 54.48%,#006eff 72.25%,#0040ff 82.99%,#01f 92.15%,#0003ff 96.42%,#00f 100%)"></i><i style="background:linear-gradient(#13ff00 0%,#00ff01 4.752%,#00ff37 11.09%,#00ff81 20.94%,#00ffc4 31.06%,#0ff 41.53%,#00bdff 54.48%,#006eff 72.25%,#0040ff 82.99%,#01f 92.15%,#0003ff 96.42%,#00f 100%)"></i><i style="background:linear-gradient(#13ff00 0%,#00ff01 4.545%,#00ff38 10.95%,#00ff82 20.94%,#00ffc4 31.06%,#0ff 41.46%,#00bdff 54.41%,#006eff 72.25%,#0040ff 82.92%,#01f 92.15%,#0003ff 96.42%,#00f 100%)"></i><i style="background:linear-gradient(#12ff00 0%,#00ff01 4.339%,#00ff38 10.88%,#00ff83 21.01%,#00ffc5 31.13%,#0ff 41.39%,#00bdff 54.41%,#006eff 72.31%,#0040ff 82.92%,#01f 92.15%,#0003ff 96.42%,#00f 100%)"></i><i style="background:linear-gradient(#1f0 0%,#00ff01 4.132%,#00ff38 10.74%,#00ff84 21.07%,#00ffc7 31.27%,#0ff 41.39%,#00bdff 54.48%,#006dff 72.45%,#0040ff 82.92%,#01f 92.15%,#0003ff 96.42%,#00f 100%)"></i><i style="background:linear-gradient(#10ff00 0%,#00ff01 3.994%,#00ff39 10.61%,#00ff85 21.07%,#00ffc7 31.27%,#0ff 41.32%,#00bdff 54.41%,#006dff 72.38%,#0040ff 82.92%,#01f 92.15%,#0003ff 96.42%,#00f 100%)"></i><i style="background:linear-gradient(#0fff00 0%,#00ff01 3.788%,#00ff39 10.54%,#00ff87 21.21%,#00ffc8 31.4%,#0ff 41.25%,#00bdff 54.41%,#006dff 72.45%,#0040ff 82.92%,#01f 92.15%,#0003ff 96.42%,#00f 100%)"></i><i style="background:linear-gradient(#0eff00 0%,#00ff01 3.581%,#00ff39 10.4%,#00ff87 21.21%,#00ffc9 31.47%,#00feff 41.25%,#00bcff 54.48%,#006cff 72.59%,#0040ff 82.92%,#01f 92.08%,#0003ff 96.35%,#00f 100%)"></i><i style="background:linear-gradient(#0dff00 0%,#00ff01 3.375%,#00ff39 10.26%,#00ff89 21.28%,#00ffca 31.54%,#00feff 41.18%,#00bcff 54.48%,#006cff 72.66%,#0040ff 82.92%,#01f 92.08%,#0003ff 96.35%,#00f 100%)"></i><i style="background:linear-gradient(#0cff00 0%,#00ff01 3.099%,#00ff3a 10.12%,#00ff8a 21.35%,#00ffcb 31.68%,#00feff 41.12%,#00bcff 54.41%,#006cff 72.66%,#003fff 82.92%,#01f 92.08%,#0003ff 96.35%,#00f 100%)"></i><i style="background:linear-gradient(#0bff00 0%,#00ff01 2.893%,#00ff3a 9.986%,#00ff8a 21.35%,#0fc 31.68%,#00feff 41.05%,#00bcff 54.41%,#006bff 72.73%,#003fff 82.92%,#01f 92.08%,#0003ff 96.35%,#00f 100%)"></i><i style="background:linear-gradient(#0aff00 0%,#00ff01 2.686%,#00ff3b 9.917%,#00ff8c 21.49%,#00ffcd 31.82%,#00feff 41.05%,#0bf 54.48%,#006bff 72.87%,#003fff 82.92%,#01f 92.08%,#0003ff 96.35%,#00f 100%)"></i><i style="background:linear-gradient(#09ff00 0%,#00ff01 2.479%,#00ff3b 9.78%,#00ff8d 21.56%,#00ffce 31.96%,#00feff 40.98%,#00bcff 54.41%,#006bff 72.8%,#0040ff 82.85%,#01f 92.08%,#0003ff 96.35%,#00f 100%)"></i><i style="background:linear-gradient(#09ff00 0%,#00ff01 2.273%,#00ff3b 9.711%,#00ff8f 21.69%,#00ffcf 32.09%,#00feff 40.91%,#0bf 54.41%,#006bff 72.87%,#0040ff 82.85%,#01f 92.08%,#0003ff 96.42%,#00f 100%)"></i><i style="background:linear-gradient(#08ff00 0%,#00ff01 2.066%,#00ff3c 9.573%,#00ff90 21.76%,#00ffd0 32.16%,#00feff 40.84%,#0bf 54.41%,#006aff 72.93%,#003fff 82.85%,#01f 92.08%,#0003ff 96.42%,#00f 100%)"></i><i style="background:linear-gradient(#07ff00 0%,#00ff01 1.86%,#00ff3c 9.504%,#00ff92 21.97%,#00ffd2 32.37%,#00feff 40.84%,#0bf 54.48%,#0069ff 73.07%,#003fff 82.85%,#01f 92.08%,#0003ff 96.42%,#00f 100%)"></i><i style="background:linear-gradient(#06ff00 0%,#00ff01 1.653%,#00ff3d 9.366%,#00ff93 22.04%,#00ffd3 32.51%,#00feff 40.77%,#0bf 54.48%,#0069ff 73.14%,#003fff 82.85%,#01f 92.08%,#0003ff 96.42%,#00f 100%)"></i><i style="background:linear-gradient(#05ff00 0%,#00ff01 1.377%,#00ff3d 9.229%,#00ff94 22.11%,#00ffd4 32.64%,#00feff 40.7%,#0bf 54.41%,#0069ff 73.14%,#003fff 82.85%,#01f 92.08%,#0003ff 96.42%,#00f 100%)"></i><i style="background:linear-gradient(#04ff00 0%,#00ff01 1.171%,#00ff3d 9.16%,#00ff96 22.31%,#00ffd6 32.85%,#00feff 40.63%,#00baff 54.41%,#0069ff 73.21%,#003fff 82.85%,#01f 92.08%,#0003ff 96.42%,#00f 100%)"></i><i style="background:linear-gradient(#03ff00 0%,#00ff01 0.9642%,#00ff3e 9.091%,#0f9 22.52%,#00ffd8 33.13%,#00feff 40.56%,#00baff 54.41%,#0068ff 73.28%,#003fff 82.85%,#01f 92.08%,#0003ff 96.42%,#00f 100%)"></i><i style="background:linear-gradient(#02ff00 0%,#00ff01 0.7576%,#00ff3f 9.022%,#00ff9a 22.66%,#00ffda 33.33%,#00feff 40.5%,#00baff 54.41%,#0068ff 73.28%,#003fff 82.78%,#01f 92.08%,#0003ff 96.42%,#00f 100%)"></i><i style="background:linear-gradient(#01ff00 0%,#00ff02 0.6198%,#00ff40 8.953%,#00ff9c 22.87%,#00ffdc 33.61%,#00feff 40.5%,#00baff 54.48%,#0067ff 73.48%,#003fff 82.85%,#01f 92.01%,#0003ff 96.35%,#00f 100%)"></i><i style="background:linear-gradient(#0f0 0%,#00ff4d 10.67%,#00ffab 25.21%,#00ffed 36.78%,#00feff 40.43%,#00b9ff 54.48%,#0067ff 73.55%,#003fff 82.78%,#01f 92.01%,#0003ff 96.35%,#00f 100%)"></i><i style="background:linear-gradient(#00ff01 0%,#00ff41 8.747%,#00ffa0 23.21%,#00ffdf 34.16%,#00feff 40.36%,#00b9ff 54.41%,#0067ff 73.48%,#003fff 82.78%,#01f 92.01%,#0003ff 96.35%,#00f 100%)"></i><i style="background:linear-gradient(#00ff03 0%,#00ff42 8.815%,#00ffa2 23.55%,#00ffe3 34.64%,#00feff 40.29%,#00b9ff 54.41%,#0067ff 73.55%,#003fff 82.78%,#01f 92.01%,#0003ff 96.35%,#00f 100%)"></i><i style="background:linear-gradient(#00ff05 0%,#00ff45 9.022%,#00ffa6 24.1%,#00ffe8 35.54%,#00feff 40.22%,#00b9ff 54.41%,#06f 73.62%,#003fff 82.78%,#01f 92.01%,#0003ff 96.35%,#00f 100%)"></i><i style="background:linear-gradient(#00ff06 0%,#00ff47 9.229%,#0fa 24.66%,#00ffed 36.5%,#00feff 40.15%,#00b9ff 54.41%,#06f 73.69%,#003fff 82.78%,#01f 92.01%,#0003ff 96.35%,#00f 100%)"></i><i style="background:linear-gradient(#00ff08 0%,#00ff4b 9.642%,#00ffb0 25.41%,#00fff4 37.67%,#00feff 40.08%,#00b9ff 54.41%,#06f 73.76%,#003fff 82.78%,#01f 92.01%,#0003ff 96.35%,#00f 100%)"></i><i style="background:linear-gradient(#00ff0a 0%,#00ff50 10.19%,#00ffb4 26.1%,#00fffa 38.77%,#00feff 40.08%,#00b8ff 54.48%,#0065ff 73.97%,#003fff 82.78%,#01f 92.01%,#0003ff 96.35%,#00f 100%)"></i><i style="background:linear-gradient(#00ff0b 0%,#00ff56 10.95%,#00ffb9 26.72%,#0ff 39.67%,#00b5ff 55.1%,#0061ff 74.93%,#003eff 82.92%,#01f 92.01%,#0003ff 96.35%,#00f 100%)"></i><i style="background:linear-gradient(#00ff0d 0%,#00ff5e 11.98%,#00ffbd 27.41%,#0ff 39.67%,#00b9ff 54.13%,#06f 73.62%,#003fff 82.71%,#01f 92.01%,#0003ff 96.35%,#00f 100%)"></i><i style="background:linear-gradient(#00ff0f 0%,#00ff67 13.29%,#00ffc2 28.1%,#0ff 39.67%,#00b9ff 54.2%,#0065ff 73.83%,#003fff 82.71%,#01f 92.01%,#0003ff 96.35%,#00f 100%)"></i><i style="background:linear-gradient(#00ff10 0%,#00ff72 14.81%,#00ffc6 28.79%,#00feff 39.67%,#00b8ff 54.27%,#0064ff 73.97%,#003fff 82.71%,#01f 92.01%,#0003ff 96.35%,#00f 100%)"></i><i style="background:linear-gradient(#00ff12 0%,#00ff7e 16.6%,#00ffcb 29.55%,#00feff 39.6%,#00b8ff 54.27%,#0064ff 74.04%,#003fff 82.71%,#01f 92.01%,#0003ff 96.35%,#00f 100%)"></i><i style="background:linear-gradient(#00ff14 0%,#00ff84 17.42%,#00ffce 29.96%,#00feff 39.53%,#00b8ff 54.27%,#0064ff 74.1%,#003fff 82.71%,#01f 91.94%,#0003ff 96.35%,#00f 100%)"></i><i style="background:linear-gradient(#00ff15 0%,#00ff8a 18.25%,#00ffd1 30.44%,#00feff 39.46%,#00b8ff 54.27%,#0063ff 74.24%,#003fff 82.71%,#01f 91.94%,#0003ff 96.35%,#00f 100%)"></i><i style="background:linear-gradient(#00ff17 0%,#00ff8f 19.01%,#00ffd4 30.99%,#00feff 39.46%,#00b7ff 54.41%,#0062ff 74.52%,#003eff 82.78%,#01f 91.94%,#0003ff 96.35%,#00f 100%)"></i><i style="background:linear-gradient(#00ff19 0%,#00ff95 19.83%,#00ffd9 31.75%,#00feff 39.39%,#00b7ff 54.41%,#0061ff 74.59%,#003eff 82.78%,#01f 91.94%,#0003ff 96.35%,#00f 100%)"></i><i style="background:linear-gradient(#00ff1a 0%,#00ff9a 20.59%,#0fd 32.51%,#00feff 39.33%,#00b6ff 54.41%,#0061ff 74.66%,#003eff 82.78%,#01f 91.94%,#0003ff 96.35%,#00f 100%)"></i><i style="background:linear-gradient(#00ff1c 0%,#00ff9f 21.35%,#00ffe3 33.47%,#00feff 39.26%,#00b6ff 54.41%,#0061ff 74.72%,#003eff 82.78%,#01f 91.94%,#0003ff 96.35%,#00f 100%)"></i><i style="background:linear-gradient(#00ff1d 0%,#00ffa4 22.04%,#00ffe9 34.5%,#00feff 39.19%,#00b6ff 54.41%,#0060ff 74.86%,#003eff 82.78%,#01f 91.94%,#0003ff 96.35%,#00f 100%)"></i><i style="background:linear-gradient(#00ff1f 0%,#00ffa9 22.73%,#00ffef 35.74%,#00feff 39.12%,#00b6ff 54.41%,#0060ff 74.93%,#003eff 82.78%,#01f 91.94%,#0003ff 96.35%,#00f 100%)"></i><i style="background:linear-gradient(#00ff20 0%,#00ffad 23.35%,#00fff5 36.78%,#00feff 39.05%,#00b6ff 54.41%,#005fff 75%,#003eff 82.78%,#01f 91.94%,#0003ff 96.35%,#00f 100%)"></i><i style="background:linear-gradient(#0f2 0%,#00ffb1 23.97%,#00fffb 37.81%,#00fdff 39.05%,#00b5ff 54.55%,#005eff 75.34%,#003eff 82.85%,#01f 91.94%,#0003ff 96.35%,#00f 100%)"></i><i style="background:linear-gradient(#00ff23 0%,#00ffb5 24.45%,#0ff 38.57%,#00b0ff 55.51%,#0056ff 77.2%,#0039ff 83.68%,#0010ff 92.01%,#0003ff 96.42%,#00f 100%)"></i><i style="background:linear-gradient(#00ff24 0%,#00ffb8 24.93%,#0ff 38.57%,#00b6ff 54.13%,#005fff 74.86%,#003eff 82.71%,#01f 91.94%,#0003ff 96.35%,#00f 100%)"></i><i style="background:linear-gradient(#00ff26 0%,#0fb 25.34%,#0ff 38.57%,#00b6ff 54.2%,#005fff 75.07%,#003eff 82.78%,#01f 91.87%,#0003ff 96.28%,#00f 100%)"></i><i style="background:linear-gradient(#00ff27 0%,#00ffbe 25.76%,#0ff 38.5%,#00b5ff 54.2%,#005eff 75.21%,#003eff 82.78%,#01f 91.87%,#0003ff 96.28%,#00f 100%)"></i><i style="background:linear-gradient(#00ff29 0%,#00ffbf 25.96%,#0ff 38.43%,#00b5ff 54.27%,#005dff 75.41%,#003dff 82.85%,#01f 91.87%,#0003ff 96.28%,#00f 100%)"></i><i style="background:linear-gradient(#00ff2a 0%,#00ffc1 26.1%,#0ff 38.36%,#00b5ff 54.27%,#005cff 75.55%,#003dff 82.85%,#01f 91.87%,#0003ff 96.28%,#00f 100%)"></i><i style="background:linear-gradient(#00ff2b 0%,#00ffc2 26.17%,#00feff 38.29%,#00b4ff 54.27%,#005cff 75.62%,#003dff 82.85%,#01f 91.87%,#0003ff 96.28%,#00f 100%)"></i><i style="background:linear-gradient(#00ff2d 0%,#00ffc3 26.31%,#00feff 38.22%,#00b4ff 54.27%,#005bff 75.76%,#003dff 82.92%,#01f 91.87%,#0003ff 96.28%,#00f 100%)"></i><i style="background:linear-gradient(#00ff2e 0%,#00ffc4 26.38%,#00feff 38.15%,#00b4ff 54.34%,#005aff 75.96%,#003cff 82.99%,#01f 91.87%,#0003ff 96.35%,#00f 100%)"></i><i style="background:linear-gradient(#00ff2f 0%,#00ffc5 26.45%,#00feff 38.09%,#00b3ff 54.34%,#005aff 76.1%,#003cff 83.06%,#01f 91.87%,#0003ff 96.35%,#00f 100%)"></i><i style="background:linear-gradient(#00ff30 0%,#00ffc6 26.52%,#00feff 38.02%,#00b3ff 54.41%,#0059ff 76.38%,#003bff 83.13%,#01f 91.87%,#0003ff 96.35%,#00f 100%)"></i><i style="background:linear-gradient(#00ff32 0%,#00ffc7 26.58%,#00feff 37.95%,#00b3ff 54.41%,#0058ff 76.45%,#003bff 83.2%,#01f 91.87%,#0003ff 96.35%,#00f 100%)"></i><i style="background:linear-gradient(#0f3 0%,#00ffc8 26.65%,#00feff 37.88%,#00b3ff 54.41%,#0058ff 76.58%,#003aff 83.26%,#01f 91.87%,#0003ff 96.35%,#00f 100%)"></i><i style="background:linear-gradient(#00ff34 0%,#00ffc9 26.72%,#00feff 37.81%,#00b2ff 54.48%,#0056ff 76.86%,#003aff 83.4%,#0010ff 91.87%,#0003ff 96.35%,#00f 100%)"></i><i style="background:linear-gradient(#00ff35 0%,#00ffc9 26.72%,#00feff 37.74%,#00b2ff 54.48%,#0056ff 77%,#0039ff 83.54%,#0010ff 91.94%,#0003ff 96.42%,#00f 100%)"></i><i style="background:linear-gradient(#00ff37 0%,#00ffca 26.79%,#00feff 37.67%,#00b1ff 54.55%,#0054ff 77.34%,#0037ff 83.82%,#0010ff 91.94%,#0003ff 96.42%,#00f 100%)"></i><i style="background:linear-gradient(#00ff38 0%,#00ffcb 26.86%,#00feff 37.6%,#00b1ff 54.55%,#0054ff 77.48%,#0037ff 83.95%,#0010ff 92.01%,#0003ff 96.42%,#00f 100%)"></i><i style="background:linear-gradient(#00ff39 0%,#0fc 26.93%,#00feff 37.53%,#00b1ff 54.61%,#0040ff 82.09%,#01f 91.8%,#0003ff 96.28%,#00f 100%)"></i><i style="background:linear-gradient(#00ff3a 0%,#00ffcd 26.93%,#00feff 37.4%,#00b1ff 54.55%,#0040ff 82.09%,#01f 91.8%,#0003ff 96.28%,#00f 100%)"></i><i style="background:linear-gradient(#00ff3c 0%,#00ffcd 27%,#00feff 37.33%,#00b0ff 54.61%,#0040ff 82.09%,#01f 91.8%,#0003ff 96.28%,#00f 100%)"></i><i style="background:linear-gradient(#00ff3d 0%,#00ffce 27.07%,#00feff 37.26%,#00b0ff 54.61%,#0040ff 82.02%,#01f 91.8%,#0003ff 96.28%,#00f 100%)"></i><i style="background:linear-gradient(#00ff3e 0%,#00ffcf 27.07%,#00feff 37.19%,#00afff 54.68%,#0040ff 82.02%,#01f 91.8%,#0003ff 96.28%,#00f 100%)"></i><i style="background:linear-gradient(#00ff3f 0%,#00ffd0 27.13%,#00feff 37.12%,#00afff 54.75%,#0040ff 82.02%,#01f 91.8%,#0003ff 96.28%,#00f 100%)"></i><i style="background:linear-gradient(#00ff40 0%,#00ffd1 27.2%,#00feff 37.05%,#00afff 54.75%,#0040ff 81.96%,#01f 91.74%,#0003ff 96.28%,#00f 100%)"></i><i style="background:linear-gradient(#00ff42 0%,#00ffd2 27.27%,#00feff 36.91%,#00aeff 54.75%,#0040ff 81.96%,#01f 91.74%,#0003ff 96.28%,#00f 100%)"></i><i style="background:linear-gradient(#00ff43 0%,#00ffd2 27.27%,#00feff 36.85%,#00aeff 54.75%,#0040ff 81.96%,#01f 91.74%,#0003ff 96.28%,#00f 100%)"></i><i style="background:linear-gradient(#0f4 0%,#00ffd3 27.34%,#00feff 36.78%,#00aeff 54.82%,#0040ff 81.89%,#01f 91.74%,#0003ff 96.28%,#00f 100%)"></i><i style="background:linear-gradient(#00ff45 0%,#00ffd4 27.41%,#00feff 36.71%,#00adff 54.89%,#0040ff 81.89%,#01f 91.74%,#0003ff 96.28%,#00f 100%)"></i><i style="background:linear-gradient(#00ff46 0%,#00ffd4 27.41%,#00feff 36.57%,#00adff 54.82%,#0040ff 81.89%,#01f 91.74%,#0003ff 96.28%,#00f 100%)"></i><i style="background:linear-gradient(#00ff47 0%,#00ffd5 27.48%,#00feff 36.5%,#00adff 54.89%,#0040ff 81.82%,#01f 91.74%,#0003ff 96.28%,#00f 100%)"></i><i style="background:linear-gradient(#00ff48 0%,#00ffd6 27.55%,#00feff 36.43%,#00acff 54.96%,#0040ff 81.82%,#01f 91.74%,#0003ff 96.28%,#00f 100%)"></i><i style="background:linear-gradient(#00ff4a 0%,#00ffd7 27.62%,#00feff 36.36%,#00acff 55.03%,#0040ff 81.82%,#01f 91.74%,#0003ff 96.28%,#00f 100%)"></i><i style="background:linear-gradient(#00ff4b 0%,#00ffd7 27.62%,#00feff 36.23%,#00acff 54.96%,#0040ff 81.75%,#0010ff 91.74%,#0003ff 96.28%,#00f 100%)"></i><i style="background:linear-gradient(#00ff4c 0%,#00ffd8 27.69%,#00feff 36.16%,#00abff 55.03%,#0040ff 81.75%,#01f 91.67%,#0003ff 96.21%,#00f 100%)"></i><i style="background:linear-gradient(#00ff4d 0%,#00ffd9 27.75%,#00feff 36.09%,#00abff 55.1%,#0040ff 81.75%,#01f 91.67%,#0003ff 96.21%,#00f 100%)"></i><i style="background:linear-gradient(#00ff4e 0%,#00ffda 27.82%,#00feff 36.02%,#0af 55.17%,#0040ff 81.68%,#01f 91.67%,#0003ff 96.21%,#00f 100%)"></i><i style="background:linear-gradient(#00ff4f 0%,#00ffdb 27.89%,#00feff 35.88%,#0af 55.17%,#0040ff 81.68%,#01f 91.67%,#0003ff 96.21%,#00f 100%)"></i><i style="background:linear-gradient(#00ff50 0%,#00ffdc 27.96%,#00feff 35.81%,#00a9ff 55.23%,#0040ff 81.68%,#01f 91.67%,#0003ff 96.21%,#00f 100%)"></i><i style="background:linear-gradient(#00ff51 0%,#0fd 28.03%,#00feff 35.74%,#00a9ff 55.3%,#0040ff 81.61%,#01f 91.67%,#0003ff 96.21%,#00f 100%)"></i><i style="background:linear-gradient(#00ff53 0%,#0fd 28.1%,#00feff 35.61%,#00a9ff 55.23%,#0040ff 81.61%,#01f 91.67%,#0003ff 96.28%,#00f 100%)"></i><i style="background:linear-gradient(#00ff54 0%,#00ffde 28.17%,#00feff 35.54%,#00a9ff 55.3%,#0041ff 81.54%,#01f 91.67%,#0003ff 96.28%,#00f 100%)"></i><i style="background:linear-gradient(#0f5 0%,#00ffdf 28.24%,#00feff 35.47%,#00a8ff 55.37%,#0040ff 81.54%,#0010ff 91.67%,#0003ff 96.28%,#00f 100%)"></i><i style="background:linear-gradient(#00ff56 0%,#00ffe0 28.31%,#00feff 35.4%,#00a8ff 55.44%,#0040ff 81.54%,#01f 91.6%,#0003ff 96.21%,#00f 100%)"></i><i style="background:linear-gradient(#00ff57 0%,#00ffe1 28.44%,#00feff 35.26%,#00a7ff 55.44%,#0041ff 81.47%,#01f 91.6%,#0003ff 96.21%,#00f 100%)"></i><i style="background:linear-gradient(#00ff58 0%,#00ffe2 28.51%,#00feff 35.19%,#00a7ff 55.51%,#0040ff 81.47%,#01f 91.6%,#0003ff 96.21%,#00f 100%)"></i><i style="background:linear-gradient(#00ff59 0%,#00ffe3 28.58%,#00feff 35.12%,#00a6ff 55.58%,#0040ff 81.47%,#01f 91.6%,#0003ff 96.21%,#00f 100%)"></i><i style="background:linear-gradient(#00ff5a 0%,#00ffe4 28.72%,#00feff 34.99%,#00a6ff 55.58%,#0041ff 81.4%,#01f 91.6%,#0003ff 96.21%,#00f 100%)"></i><i style="background:linear-gradient(#00ff5b 0%,#00ffe5 28.79%,#00feff 34.92%,#00a6ff 55.65%,#0041ff 81.4%,#01f 91.6%,#0003ff 96.21%,#00f 100%)"></i><i style="background:linear-gradient(#00ff5c 0%,#00ffe6 28.93%,#00feff 34.85%,#00a5ff 55.72%,#0040ff 81.4%,#01f 91.6%,#0003ff 96.21%,#00f 100%)"></i><i style="background:linear-gradient(#00ff5d 0%,#00ffe7 29.06%,#00feff 34.71%,#00a5ff 55.72%,#0041ff 81.34%,#0010ff 91.6%,#0003ff 96.21%,#00f 100%)"></i><i style="background:linear-gradient(#00ff5e 0%,#00ffe8 29.13%,#00feff 34.64%,#00a4ff 55.79%,#0041ff 81.34%,#0010ff 91.6%,#0003ff 96.21%,#00f 100%)"></i><i style="background:linear-gradient(#00ff5f 0%,#00ffe9 29.27%,#00feff 34.57%,#00a4ff 55.92%,#0041ff 81.27%,#01f 91.53%,#0003ff 96.21%,#00f 100%)"></i><i style="background:linear-gradient(#00ff60 0%,#00ffea 29.41%,#00feff 34.44%,#00a3ff 55.92%,#0041ff 81.27%,#01f 91.53%,#0003ff 96.21%,#00f 100%)"></i><i style="background:linear-gradient(#00ff61 0%,#00ffeb 29.55%,#00feff 34.37%,#00a3ff 55.99%,#0041ff 81.27%,#01f 91.53%,#0003ff 96.21%,#00f 100%)"></i><i style="background:linear-gradient(#00ff62 0%,#00ffec 29.68%,#00feff 34.23%,#00a3ff 55.99%,#0041ff 81.2%,#01f 91.53%,#0003ff 96.21%,#00f 100%)"></i><i style="background:linear-gradient(#00ff63 0%,#00ffed 29.82%,#00feff 34.16%,#00a2ff 56.06%,#0041ff 81.2%,#01f 91.53%,#0003ff 96.21%,#00f 100%)"></i><i style="background:linear-gradient(#00ff64 0%,#0fe 30.03%,#00feff 34.09%,#00a2ff 56.13%,#0041ff 81.2%,#01f 91.53%,#0003ff 96.21%,#00f 100%)"></i><i style="background:linear-gradient(#00ff65 0%,#00fff0 30.17%,#00feff 33.95%,#00a1ff 56.13%,#0041ff 81.13%,#0010ff 91.53%,#0003ff 96.21%,#00f 100%)"></i><i style="background:linear-gradient(#0f6 0%,#00fff1 30.3%,#00feff 33.88%,#00a1ff 56.27%,#0041ff 81.13%,#0010ff 91.53%,#0003ff 96.21%,#00f 100%)"></i><i style="background:linear-gradient(#00ff67 0%,#00fff2 30.51%,#00feff 33.82%,#00a0ff 56.34%,#0041ff 81.13%,#0010ff 91.53%,#0003ff 96.21%,#00f 100%)"></i><i style="background:linear-gradient(#00ff68 0%,#00fff3 30.72%,#00feff 33.68%,#00a0ff 56.34%,#0041ff 81.06%,#01f 91.46%,#0003ff 96.14%,#00f 100%)"></i><i style="background:linear-gradient(#00ff69 0%,#00fff4 30.85%,#00feff 33.61%,#009fff 56.4%,#0041ff 81.06%,#01f 91.46%,#0003ff 96.14%,#00f 100%)"></i><i style="background:linear-gradient(#00ff6a 0%,#00fff6 31.06%,#00feff 33.54%,#009fff 56.54%,#0041ff 80.99%,#01f 91.46%,#0003ff 96.14%,#00f 100%)"></i><i style="background:linear-gradient(#00ff6b 0%,#00fff7 31.27%,#00feff 33.4%,#009eff 56.54%,#0041ff 80.99%,#01f 91.46%,#0003ff 96.14%,#00f 100%)"></i><i style="background:linear-gradient(#00ff6c 0%,#00fff8 31.47%,#00feff 33.33%,#009eff 56.61%,#0041ff 80.99%,#01f 91.46%,#0003ff 96.14%,#00f 100%)"></i><i style="background:linear-gradient(#00ff6d 0%,#00fffa 31.75%,#00feff 33.26%,#009dff 56.75%,#0041ff 80.92%,#0010ff 91.46%,#0003ff 96.14%,#00f 100%)"></i><i style="background:linear-gradient(#00ff6e 0%,#00fffb 31.96%,#00fdff 33.26%,#009cff 56.89%,#0041ff 80.92%,#0010ff 91.46%,#0003ff 96.14%,#00f 100%)"></i><i style="background:linear-gradient(#00ff6f 0%,#00fffd 32.16%,#00fdff 33.26%,#009bff 57.09%,#0041ff 80.85%,#0010ff 91.46%,#0003ff 96.21%,#00f 100%)"></i><i style="background:linear-gradient(#00ff70 0%,#00fffe 32.44%,#0090ff 59.99%,#0041ff 80.85%,#01f 91.39%,#0003ff 96.14%,#00f 100%)"></i><i style="background:linear-gradient(#00ff71 0%,#0ff 32.51%,#009bff 57.02%,#0041ff 80.85%,#01f 91.39%,#0003ff 96.14%,#00f 100%)"></i><i style="background:linear-gradient(#00ff72 0%,#0ff 32.44%,#009dff 56.61%,#0041ff 80.79%,#01f 91.39%,#0003ff 96.14%,#00f 100%)"></i><i style="background:linear-gradient(#00ff72 0%,#0ff 32.3%,#009aff 57.23%,#0041ff 80.79%,#01f 91.39%,#0003ff 96.14%,#00f 100%)"></i><i style="background:linear-gradient(#00ff73 0%,#0ff 32.23%,#009cff 56.75%,#0041ff 80.79%,#01f 91.39%,#0003ff 96.14%,#00f 100%)"></i><i style="background:linear-gradient(#00ff74 0%,#0ff 32.16%,#009bff 56.82%,#0041ff 80.72%,#0010ff 91.39%,#0003ff 96.14%,#00f 100%)"></i><i style="background:linear-gradient(#00ff75 0%,#0ff 32.09%,#009bff 56.89%,#0041ff 80.72%,#0010ff 91.39%,#0003ff 96.14%,#00f 100%)"></i><i style="background:linear-gradient(#00ff76 0%,#0ff 31.96%,#009aff 56.96%,#0041ff 80.72%,#0010ff 91.39%,#0003ff 96.14%,#00f 100%)"></i><i style="background:linear-gradient(#0f7 0%,#0ff 31.89%,#009aff 57.02%,#0041ff 80.65%,#01f 91.32%,#0003ff 96.07%,#00f 100%)"></i><i style="background:linear-gradient(#00ff78 0%,#0ff 31.82%,#09f 57.09%,#0041ff 80.65%,#01f 91.32%,#0003ff 96.14%,#00f 100%)"></i><i style="background:linear-gradient(#00ff79 0%,#0ff 31.68%,#09f 57.16%,#0041ff 80.58%,#01f 91.32%,#0003ff 96.14%,#00f 100%)"></i><i style="background:linear-gradient(#00ff7a 0%,#0ff 31.61%,#0098ff 57.23%,#0041ff 80.58%,#01f 91.32%,#0003ff 96.14%,#00f 100%)"></i><i style="background:linear-gradient(#00ff7b 0%,#00feff 31.54%,#0098ff 57.3%,#0041ff 80.58%,#0010ff 91.32%,#0003ff 96.14%,#00f 100%)"></i><i style="background:linear-gradient(#00ff7b 0%,#00feff 31.47%,#0097ff 57.44%,#0041ff 80.51%,#0010ff 91.32%,#0003ff 96.14%,#00f 100%)"></i><i style="background:linear-gradient(#00ff7c 0%,#00feff 31.34%,#0097ff 57.44%,#0041ff 80.51%,#0010ff 91.32%,#0003ff 96.14%,#00f 100%)"></i><i style="background:linear-gradient(#00ff7d 0%,#00feff 31.27%,#0097ff 57.51%,#0041ff 80.51%,#0010ff 91.32%,#0003ff 96.14%,#00f 100%)"></i><i style="background:linear-gradient(#00ff7e 0%,#00feff 31.2%,#0096ff 57.64%,#0041ff 80.44%,#01f 91.25%,#0003ff 96.07%,#00f 100%)"></i><i style="background:linear-gradient(#00ff7f 0%,#00feff 31.06%,#0096ff 57.64%,#0041ff 80.44%,#01f 91.25%,#0003ff 96.07%,#00f 100%)"></i><i style="background:linear-gradient(#00ff80 0%,#00feff 30.99%,#0095ff 57.71%,#0041ff 80.37%,#01f 91.25%,#0003ff 96.07%,#00f 100%)"></i><i style="background:linear-gradient(#00ff81 0%,#00feff 30.85%,#0095ff 57.71%,#0041ff 80.37%,#01f 91.25%,#0003ff 96.07%,#00f 100%)"></i><i style="background:linear-gradient(#00ff82 0%,#00feff 30.79%,#0094ff 57.85%,#0041ff 80.37%,#0010ff 91.25%,#0003ff 96.07%,#00f 100%)"></i><i style="background:linear-gradient(#00ff82 0%,#00feff 30.65%,#0094ff 57.85%,#0041ff 80.3%,#0010ff 91.25%,#0003ff 96.07%,#00f 100%)"></i><i style="background:linear-gradient(#00ff83 0%,#00feff 30.58%,#0094ff 57.92%,#0041ff 80.3%,#0010ff 91.25%,#0003ff 96.07%,#00f 100%)"></i><i style="background:linear-gradient(#00ff84 0%,#00feff 30.51%,#0093ff 58.06%,#0042ff 80.23%,#0010ff 91.25%,#0003ff 96.07%,#00f 100%)"></i><i style="background:linear-gradient(#00ff85 0%,#00feff 30.37%,#0093ff 58.06%,#0041ff 80.23%,#01f 91.18%,#0003ff 96.07%,#00f 100%)"></i><i style="background:linear-gradient(#00ff86 0%,#00feff 30.3%,#0092ff 58.13%,#0041ff 80.23%,#01f 91.18%,#0003ff 96.07%,#00f 100%)"></i><i style="background:linear-gradient(#00ff87 0%,#00feff 30.17%,#0092ff 58.2%,#0041ff 80.17%,#01f 91.18%,#0003ff 96.07%,#00f 100%)"></i><i style="background:linear-gradient(#00ff87 0%,#00feff 30.1%,#0091ff 58.26%,#0041ff 80.17%,#0010ff 91.18%,#0003ff 96.07%,#00f 100%)"></i><i style="background:linear-gradient(#0f8 0%,#00feff 29.96%,#0091ff 58.26%,#0041ff 80.17%,#0010ff 91.18%,#0003ff 96.07%,#00f 100%)"></i><i style="background:linear-gradient(#00ff89 0%,#00feff 29.82%,#0091ff 58.33%,#0041ff 80.1%,#0010ff 91.18%,#0003ff 96.07%,#00f 100%)"></i><i style="background:linear-gradient(#00ff8a 0%,#00feff 29.75%,#0090ff 58.4%,#0041ff 80.1%,#0010ff 91.18%,#0003ff 96.07%,#00f 100%)"></i><i style="background:linear-gradient(#00ff8b 0%,#00feff 29.61%,#0090ff 58.4%,#0042ff 80.03%,#01f 91.12%,#0003ff 96.01%,#00f 100%)"></i><i style="background:linear-gradient(#00ff8c 0%,#00feff 29.55%,#008fff 58.54%,#0041ff 80.03%,#01f 91.12%,#0003ff 96.01%,#00f 100%)"></i><i style="background:linear-gradient(#00ff8c 0%,#00feff 29.41%,#008fff 58.54%,#0041ff 80.03%,#0010ff 91.12%,#0003ff 96.07%,#00f 100%)"></i><i style="background:linear-gradient(#00ff8d 0%,#00feff 29.27%,#008fff 58.54%,#0042ff 79.96%,#0010ff 91.12%,#0003ff 96.07%,#00f 100%)"></i><i style="background:linear-gradient(#00ff8e 0%,#00feff 29.2%,#008eff 58.68%,#0041ff 79.96%,#0010ff 91.12%,#0003ff 96.07%,#00f 100%)"></i><i style="background:linear-gradient(#00ff8f 0%,#00feff 29.06%,#008eff 58.68%,#0041ff 79.96%,#0010ff 91.12%,#0003ff 96.07%,#00f 100%)"></i><i style="background:linear-gradient(#00ff90 0%,#00feff 28.99%,#008eff 58.75%,#0042ff 79.89%,#0010ff 91.12%,#0003ff 96.07%,#00f 100%)"></i><i style="background:linear-gradient(#00ff90 0%,#00feff 28.86%,#008dff 58.82%,#0041ff 79.89%,#01f 91.05%,#0003ff 96.01%,#00f 100%)"></i><i style="background:linear-gradient(#00ff91 0%,#00feff 28.72%,#008dff 58.82%,#0042ff 79.82%,#01f 91.05%,#0003ff 96.01%,#00f 100%)"></i><i style="background:linear-gradient(#00ff92 0%,#00feff 28.65%,#008cff 58.95%,#0042ff 79.82%,#0010ff 91.05%,#0003ff 96.01%,#00f 100%)"></i><i style="background:linear-gradient(#00ff93 0%,#00feff 28.51%,#008cff 58.95%,#0041ff 79.82%,#0010ff 91.05%,#0003ff 96.01%,#00f 100%)"></i><i style="background:linear-gradient(#00ff94 0%,#00feff 28.44%,#008cff 59.02%,#0042ff 79.75%,#0010ff 91.05%,#0003ff 96.01%,#00f 100%)"></i><i style="background:linear-gradient(#00ff94 0%,#00feff 28.31%,#008bff 59.09%,#0041ff 79.75%,#0010ff 91.05%,#0003ff 96.01%,#00f 100%)"></i><i style="background:linear-gradient(#00ff95 0%,#00feff 28.17%,#008bff 59.09%,#0041ff 79.75%,#0010ff 91.05%,#0003ff 96.01%,#00f 100%)"></i><i style="background:linear-gradient(#00ff96 0%,#00feff 28.1%,#008aff 59.23%,#0042ff 79.68%,#01f 90.98%,#0003ff 96.01%,#00f 100%)"></i><i style="background:linear-gradient(#00ff97 0%,#00feff 27.96%,#008aff 59.23%,#0041ff 79.68%,#01f 90.98%,#0003ff 96.01%,#00f 100%)"></i><i style="background:linear-gradient(#00ff97 0%,#00feff 27.82%,#008aff 59.3%,#0042ff 79.61%,#0010ff 90.98%,#0003ff 96.01%,#00f 100%)"></i><i style="background:linear-gradient(#00ff98 0%,#00feff 27.75%,#0089ff 59.37%,#0042ff 79.61%,#0010ff 90.98%,#0003ff 96.01%,#00f 100%)"></i><i style="background:linear-gradient(#0f9 0%,#00feff 27.62%,#0089ff 59.44%,#0041ff 79.61%,#0010ff 90.98%,#0003ff 96.01%,#00f 100%)"></i><i style="background:linear-gradient(#00ff9a 0%,#00feff 27.48%,#0089ff 59.44%,#0042ff 79.55%,#0010ff 90.98%,#0003ff 96.01%,#00f 100%)"></i><i style="background:linear-gradient(#00ff9a 0%,#00feff 27.41%,#08f 59.57%,#0041ff 79.55%,#0010ff 90.98%,#0003ff 96.01%,#00f 100%)"></i><i style="background:linear-gradient(#00ff9b 0%,#00feff 27.27%,#08f 59.57%,#0042ff 79.48%,#01f 90.91%,#0003ff 95.94%,#00f 100%)"></i><i style="background:linear-gradient(#00ff9c 0%,#00feff 27.13%,#0087ff 59.64%,#0042ff 79.48%,#0010ff 90.91%,#0003ff 95.94%,#00f 100%)"></i><i style="background:linear-gradient(#00ff9d 0%,#00feff 27.07%,#0087ff 59.71%,#0041ff 79.48%,#0010ff 90.91%,#0003ff 95.94%,#00f 100%)"></i><i style="background:linear-gradient(#00ff9d 0%,#00feff 26.93%,#0086ff 59.78%,#0042ff 79.41%,#0010ff 90.91%,#0003ff 96.01%,#00f 100%)"></i><i style="background:linear-gradient(#00ff9e 0%,#00feff 26.79%,#0086ff 59.78%,#0042ff 79.41%,#0010ff 90.91%,#0003ff 96.01%,#00f 100%)"></i><i style="background:linear-gradient(#00ff9f 0%,#00feff 26.72%,#0086ff 59.92%,#0041ff 79.41%,#0010ff 90.91%,#0003ff 96.01%,#00f 100%)"></i><i style="background:linear-gradient(#00ffa0 0%,#00feff 26.58%,#0085ff 59.99%,#0042ff 79.34%,#01f 90.84%,#0003ff 95.94%,#00f 100%)"></i><i style="background:linear-gradient(#00ffa0 0%,#00feff 26.45%,#0085ff 59.99%,#0041ff 79.34%,#0010ff 90.84%,#0003ff 95.94%,#00f 100%)"></i><i style="background:linear-gradient(#00ffa1 0%,#00feff 26.38%,#0084ff 60.12%,#0042ff 79.27%,#0010ff 90.84%,#0003ff 95.94%,#00f 100%)"></i><i style="background:linear-gradient(#00ffa2 0%,#00feff 26.24%,#0084ff 60.19%,#0042ff 79.27%,#0010ff 90.84%,#0003ff 95.94%,#00f 100%)"></i><i style="background:linear-gradient(#00ffa2 0%,#00feff 26.1%,#0084ff 60.19%,#0041ff 79.27%,#0010ff 90.84%,#0003ff 95.94%,#00f 100%)"></i><i style="background:linear-gradient(#00ffa3 0%,#00feff 25.96%,#0083ff 60.26%,#0042ff 79.2%,#0010ff 90.84%,#0003ff 95.94%,#00f 100%)"></i><i style="background:linear-gradient(#00ffa4 0%,#00feff 25.9%,#0083ff 60.4%,#0041ff 79.2%,#01f 90.77%,#0003ff 95.94%,#00f 100%)"></i><i style="background:linear-gradient(#00ffa4 0%,#00feff 25.76%,#0082ff 60.47%,#0041ff 79.2%,#0010ff 90.77%,#0003ff 95.94%,#00f 100%)"></i><i style="background:linear-gradient(#00ffa5 0%,#00feff 25.62%,#0082ff 60.47%,#0042ff 79.13%,#0010ff 90.77%,#0003ff 95.94%,#00f 100%)"></i><i style="background:linear-gradient(#00ffa6 0%,#00feff 25.55%,#0081ff 60.61%,#0041ff 79.13%,#0010ff 90.77%,#0003ff 95.94%,#00f 100%)"></i><i style="background:linear-gradient(#00ffa6 0%,#00feff 25.41%,#0081ff 60.67%,#0042ff 79.06%,#0010ff 90.77%,#0003ff 95.94%,#00f 100%)"></i><i style="background:linear-gradient(#00ffa7 0%,#00feff 25.28%,#0081ff 60.74%,#0041ff 79.06%,#0010ff 90.77%,#0003ff 95.94%,#00f 100%)"></i><i style="background:linear-gradient(#00ffa8 0%,#00feff 25.14%,#0080ff 60.81%,#0041ff 79.06%,#01f 90.7%,#0003ff 95.87%,#00f 100%)"></i><i style="background:linear-gradient(#00ffa8 0%,#00feff 25.07%,#007fff 60.95%,#0042ff 78.99%,#0010ff 90.7%,#0003ff 95.87%,#00f 100%)"></i><i style="background:linear-gradient(#00ffa9 0%,#00feff 24.93%,#007fff 61.02%,#0041ff 78.99%,#0010ff 90.7%,#0003ff 95.87%,#00f 100%)"></i><i style="background:linear-gradient(#0fa 0%,#00feff 24.79%,#007fff 61.09%,#0041ff 78.99%,#0010ff 90.7%,#0003ff 95.87%,#00f 100%)"></i><i style="background:linear-gradient(#0fa 0%,#00feff 24.66%,#007eff 61.16%,#0041ff 78.93%,#0010ff 90.7%,#0003ff 95.87%,#00f 100%)"></i><i style="background:linear-gradient(#00ffab 0%,#00feff 24.59%,#007eff 61.29%,#0041ff 78.93%,#0010ff 90.7%,#0003ff 95.87%,#00f 100%)"></i><i style="background:linear-gradient(#00ffac 0%,#00feff 24.45%,#007dff 61.36%,#0041ff 78.93%,#01f 90.63%,#0003ff 95.87%,#00f 100%)"></i><i style="background:linear-gradient(#00ffac 0%,#00feff 24.31%,#007dff 61.43%,#0041ff 78.86%,#0010ff 90.63%,#0003ff 95.87%,#00f 100%)"></i><i style="background:linear-gradient(#00ffad 0%,#00feff 24.17%,#007cff 61.57%,#0041ff 78.86%,#0010ff 90.63%,#0003ff 95.87%,#00f 100%)"></i><i style="background:linear-gradient(#00ffad 0%,#0ff 23.69%,#07f 63.15%,#0041ff 78.86%,#0010ff 90.63%,#0003ff 95.87%,#00f 100%)"></i><i style="background:linear-gradient(#00ffae 0%,#00fffe 23.35%,#0068ff 67.63%,#0040ff 79.13%,#0010ff 90.63%,#0003ff 95.87%,#00f 100%)"></i><i style="background:linear-gradient(#00ffaf 0%,#00fffd 23.07%,#00fbff 24.72%,#0078ff 62.67%,#0041ff 78.79%,#0010ff 90.63%,#0003ff 95.87%,#00f 100%)"></i><i style="background:linear-gradient(#00ffaf 0%,#00fffd 22.8%,#00fdff 24.1%,#0079ff 62.33%,#0041ff 78.79%,#01f 90.56%,#0003ff 95.8%,#00f 100%)"></i><i style="background:linear-gradient(#00ffb0 0%,#00feff 23.62%,#0079ff 62.12%,#0041ff 78.72%,#0010ff 90.56%,#0003ff 95.8%,#00f 100%)"></i><i style="background:linear-gradient(#00ffb1 0%,#00feff 23.48%,#0079ff 62.26%,#0041ff 78.72%,#0010ff 90.56%,#0003ff 95.87%,#00f 100%)"></i><i style="background:linear-gradient(#00ffb1 0%,#00fffc 22.11%,#00fdff 23.55%,#0078ff 62.53%,#0041ff 78.72%,#0010ff 90.56%,#0003ff 95.87%,#00f 100%)"></i><i style="background:linear-gradient(#00ffb2 0%,#00fffb 21.9%,#00fdff 23.42%,#07f 62.67%,#0041ff 78.65%,#0010ff 90.56%,#0003ff 95.87%,#00f 100%)"></i><i style="background:linear-gradient(#00ffb2 0%,#00fffb 21.69%,#00fdff 23.28%,#0076ff 62.81%,#0041ff 78.65%,#0010ff 90.56%,#0003ff 95.87%,#00f 100%)"></i><i style="background:linear-gradient(#00ffb3 0%,#00fffb 21.56%,#00fdff 23.14%,#0076ff 62.88%,#0041ff 78.65%,#01f 90.5%,#0003ff 95.8%,#00f 100%)"></i><i style="background:linear-gradient(#00ffb4 0%,#00fffb 21.35%,#00fdff 23%,#0075ff 63.02%,#0041ff 78.58%,#0010ff 90.5%,#0003ff 95.8%,#00f 100%)"></i><i style="background:linear-gradient(#00ffb4 0%,#00fffb 21.21%,#00fdff 22.87%,#0075ff 63.15%,#0041ff 78.58%,#0010ff 90.5%,#0003ff 95.8%,#00f 100%)"></i><i style="background:linear-gradient(#00ffb5 0%,#00fffb 21.07%,#00fdff 22.73%,#0074ff 63.29%,#0041ff 78.58%,#0010ff 90.5%,#0003ff 95.8%,#00f 100%)"></i><i style="background:linear-gradient(#00ffb5 0%,#00fffb 20.94%,#00feff 22.59%,#0074ff 63.43%,#0041ff 78.51%,#0010ff 90.5%,#0003ff 95.8%,#00f 100%)"></i><i style="background:linear-gradient(#00ffb6 0%,#00fffb 20.87%,#00fdff 22.52%,#0073ff 63.71%,#0041ff 78.51%,#0010ff 90.5%,#0003ff 95.8%,#00f 100%)"></i><i style="background:linear-gradient(#00ffb6 0%,#00fffb 20.73%,#00fdff 22.38%,#0072ff 63.84%,#0041ff 78.51%,#0010ff 90.43%,#0003ff 95.8%,#00f 100%)"></i><i style="background:linear-gradient(#00ffb7 0%,#00fffb 20.66%,#00fdff 22.25%,#0071ff 63.98%,#0041ff 78.44%,#0010ff 90.43%,#0003ff 95.8%,#00f 100%)"></i><i style="background:linear-gradient(#00ffb8 0%,#00feff 21.97%,#0071ff 63.98%,#0041ff 78.44%,#0010ff 90.43%,#0003ff 95.8%,#00f 100%)"></i><i style="background:linear-gradient(#00ffb8 0%,#00feff 21.83%,#0070ff 64.19%,#0041ff 78.44%,#0010ff 90.43%,#0003ff 95.8%,#00f 100%)"></i><i style="background:linear-gradient(#00ffb9 0%,#00fffc 20.45%,#00fdff 21.9%,#006fff 64.6%,#0041ff 78.44%,#0010ff 90.43%,#0003ff 95.8%,#00f 100%)"></i><i style="background:linear-gradient(#00ffb9 0%,#00fffc 20.45%,#00fdff 21.83%,#006eff 64.88%,#0041ff 78.44%,#01f 90.36%,#0003ff 95.73%,#00f 100%)"></i><i style="background:linear-gradient(#00ffba 0%,#00fffc 20.39%,#00fdff 21.76%,#006dff 65.15%,#0040ff 78.44%,#0010ff 90.36%,#0003ff 95.73%,#00f 100%)"></i><i style="background:linear-gradient(#00ffba 0%,#00fffd 20.39%,#00fcff 21.83%,#006bff 65.63%,#0040ff 78.44%,#0010ff 90.36%,#0003ff 95.73%,#00f 100%)"></i><i style="background:linear-gradient(#0fb 0%,#00feff 21.21%,#006cff 65.22%,#0040ff 78.37%,#0010ff 90.36%,#0003ff 95.73%,#00f 100%)"></i><i style="background:linear-gradient(#0fb 0%,#00feff 21.07%,#006bff 65.43%,#0040ff 78.37%,#0010ff 90.36%,#0003ff 95.8%,#00f 100%)"></i><i style="background:linear-gradient(#00ffbc 0%,#00feff 21.01%,#006aff 65.77%,#0040ff 78.37%,#01f 90.29%,#0003ff 95.73%,#00f 100%)"></i><i style="background:linear-gradient(#00ffbc 0%,#00feff 20.87%,#0069ff 66.05%,#0040ff 78.37%,#0010ff 90.29%,#0003ff 95.73%,#00f 100%)"></i><i style="background:linear-gradient(#00ffbd 0%,#00feff 20.73%,#0068ff 66.25%,#0040ff 78.37%,#0010ff 90.29%,#0003ff 95.73%,#00f 100%)"></i><i style="background:linear-gradient(#00ffbd 0%,#00feff 20.59%,#0067ff 66.53%,#0040ff 78.37%,#0010ff 90.29%,#0003ff 95.73%,#00f 100%)"></i><i style="background:linear-gradient(#00ffbe 0%,#00feff 20.45%,#06f 66.8%,#0040ff 78.37%,#0010ff 90.29%,#0003ff 95.73%,#00f 100%)"></i><i style="background:linear-gradient(#00ffbf 0%,#00feff 20.32%,#0065ff 67.08%,#0040ff 78.37%,#01f 90.22%,#0003ff 95.66%,#00f 100%)"></i><i style="background:linear-gradient(#00ffbf 0%,#00feff 20.18%,#0064ff 67.42%,#003fff 78.37%,#01f 90.22%,#0003ff 95.73%,#00f 100%)"></i><i style="background:linear-gradient(#00ffc0 0%,#00feff 20.11%,#0063ff 67.84%,#003fff 78.44%,#0010ff 90.22%,#0003ff 95.73%,#00f 100%)"></i><i style="background:linear-gradient(#00ffc0 0%,#00feff 19.97%,#0061ff 68.18%,#003fff 78.44%,#0010ff 90.22%,#0003ff 95.73%,#00f 100%)"></i><i style="background:linear-gradient(#00ffc1 0%,#00feff 19.83%,#0060ff 68.53%,#003fff 78.51%,#0010ff 90.22%,#0003ff 95.73%,#00f 100%)"></i><i style="background:linear-gradient(#00ffc1 0%,#00feff 19.7%,#005fff 68.87%,#003eff 78.51%,#01f 90.15%,#0003ff 95.66%,#00f 100%)"></i><i style="background:linear-gradient(#00ffc2 0%,#00feff 19.56%,#005dff 69.28%,#003eff 78.58%,#01f 90.15%,#0003ff 95.66%,#00f 100%)"></i><i style="background:linear-gradient(#00ffc2 0%,#00feff 19.42%,#005cff 69.7%,#003dff 78.72%,#0010ff 90.15%,#0003ff 95.66%,#00f 100%)"></i><i style="background:linear-gradient(#00ffc3 0%,#00feff 19.28%,#005aff 70.18%,#003dff 78.86%,#0010ff 90.15%,#0003ff 95.66%,#00f 100%)"></i><i style="background:linear-gradient(#00ffc3 0%,#00feff 19.15%,#0058ff 70.8%,#003cff 79.13%,#0010ff 90.15%,#0003ff 95.66%,#00f 100%)"></i><i style="background:linear-gradient(#00ffc4 0%,#00feff 19.01%,#0056ff 71.42%,#003aff 79.48%,#0010ff 90.15%,#0003ff 95.66%,#00f 100%)"></i><i style="background:linear-gradient(#00ffc4 0%,#00feff 18.94%,#0054ff 72.18%,#0037ff 80.1%,#0010ff 90.29%,#0003ff 95.8%,#00f 100%)"></i><i style="background:linear-gradient(#00ffc5 0%,#00feff 18.8%,#0051ff 72.87%,#0034ff 80.99%,#000fff 90.43%,#0002ff 95.94%,#00f 100%)"></i><i style="background:linear-gradient(#00ffc5 0%,#00feff 18.66%,#0041ff 77.55%,#0010ff 90.08%,#0003ff 95.66%,#00f 100%)"></i><i style="background:linear-gradient(#00ffc6 0%,#00feff 18.53%,#0041ff 77.55%,#0010ff 90.08%,#0003ff 95.66%,#00f 100%)"></i><i style="background:linear-gradient(#00ffc6 0%,#00feff 18.39%,#0041ff 77.48%,#0010ff 90.08%,#0003ff 95.66%,#00f 100%)"></i><i style="background:linear-gradient(#00ffc7 0%,#00feff 18.25%,#0041ff 77.48%,#0010ff 90.08%,#0003ff 95.66%,#00f 100%)"></i><i style="background:linear-gradient(#00ffc7 0%,#00feff 18.11%,#0041ff 77.41%,#0010ff 90.01%,#0003ff 95.59%,#00f 100%)"></i><i style="background:linear-gradient(#00ffc8 0%,#00feff 17.98%,#0041ff 77.41%,#0010ff 90.01%,#0003ff 95.59%,#00f 100%)"></i><i style="background:linear-gradient(#00ffc9 0%,#00feff 17.84%,#0041ff 77.34%,#0010ff 90.01%,#0003ff 95.66%,#00f 100%)"></i><i style="background:linear-gradient(#00ffc9 0%,#00feff 17.7%,#0041ff 77.34%,#0010ff 90.01%,#0003ff 95.66%,#00f 100%)"></i><i style="background:linear-gradient(#00ffca 0%,#00feff 17.56%,#0041ff 77.27%,#0010ff 90.01%,#0003ff 95.66%,#00f 100%)"></i><i style="background:linear-gradient(#00ffca 0%,#00feff 17.42%,#0041ff 77.2%,#0010ff 89.94%,#0003ff 95.59%,#00f 100%)"></i><i style="background:linear-gradient(#00ffcb 0%,#00feff 17.29%,#0041ff 77.2%,#0010ff 89.94%,#0003ff 95.59%,#00f 100%)"></i><i style="background:linear-gradient(#00ffcb 0%,#00feff 17.15%,#0041ff 77.13%,#0010ff 89.94%,#0003ff 95.59%,#00f 100%)"></i><i style="background:linear-gradient(#0fc 0%,#00feff 17.01%,#0041ff 77.13%,#0010ff 89.94%,#0003ff 95.59%,#00f 100%)"></i><i style="background:linear-gradient(#0fc 0%,#00feff 16.87%,#0042ff 77.07%,#0010ff 89.94%,#0003ff 95.59%,#00f 100%)"></i><i style="background:linear-gradient(#00ffcd 0%,#00feff 16.74%,#0041ff 77.07%,#0010ff 89.88%,#0003ff 95.59%,#00f 100%)"></i><i style="background:linear-gradient(#00ffcd 0%,#00feff 16.6%,#0042ff 77%,#0010ff 89.88%,#0003ff 95.59%,#00f 100%)"></i><i style="background:linear-gradient(#00ffce 0%,#00feff 16.46%,#0041ff 77%,#0010ff 89.88%,#0003ff 95.59%,#00f 100%)"></i><i style="background:linear-gradient(#00ffce 0%,#00feff 16.32%,#0042ff 76.93%,#0010ff 89.88%,#0003ff 95.59%,#00f 100%)"></i><i style="background:linear-gradient(#00ffcf 0%,#00feff 16.18%,#0042ff 76.86%,#0010ff 89.88%,#0003ff 95.59%,#00f 100%)"></i><i style="background:linear-gradient(#00ffcf 0%,#00feff 16.05%,#0042ff 76.86%,#0010ff 89.81%,#0003ff 95.52%,#00f 100%)"></i><i style="background:linear-gradient(#00ffd0 0%,#00feff 15.91%,#0042ff 76.79%,#0010ff 89.81%,#0003ff 95.52%,#00f 100%)"></i><i style="background:linear-gradient(#00ffd0 0%,#00feff 15.77%,#0042ff 76.79%,#0010ff 89.81%,#0003ff 95.52%,#00f 100%)"></i><i style="background:linear-gradient(#00ffd1 0%,#00feff 15.63%,#0042ff 76.72%,#0010ff 89.81%,#0003ff 95.52%,#00f 100%)"></i><i style="background:linear-gradient(#00ffd1 0%,#00feff 15.5%,#0042ff 76.72%,#0010ff 89.81%,#0003ff 95.59%,#00f 100%)"></i><i style="background:linear-gradient(#00ffd2 0%,#00feff 15.36%,#0042ff 76.65%,#0010ff 89.74%,#0003ff 95.52%,#00f 100%)"></i><i style="background:linear-gradient(#00ffd3 0%,#00feff 15.22%,#0042ff 76.65%,#0010ff 89.74%,#0003ff 95.52%,#00f 100%)"></i><i style="background:linear-gradient(#00ffd3 0%,#00feff 15.08%,#0042ff 76.58%,#0010ff 89.74%,#0003ff 95.52%,#00f 100%)"></i><i style="background:linear-gradient(#00ffd4 0%,#00feff 14.94%,#0042ff 76.52%,#0010ff 89.74%,#0003ff 95.52%,#00f 100%)"></i><i style="background:linear-gradient(#00ffd4 0%,#00feff 14.81%,#0042ff 76.52%,#0010ff 89.74%,#0003ff 95.52%,#00f 100%)"></i><i style="background:linear-gradient(#00ffd5 0%,#00feff 14.67%,#0042ff 76.45%,#0010ff 89.67%,#0003ff 95.45%,#00f 100%)"></i><i style="background:linear-gradient(#00ffd5 0%,#00feff 14.53%,#0042ff 76.45%,#0010ff 89.67%,#0003ff 95.52%,#00f 100%)"></i><i style="background:linear-gradient(#00ffd6 0%,#00feff 14.39%,#0042ff 76.38%,#0010ff 89.67%,#0003ff 95.52%,#00f 100%)"></i><i style="background:linear-gradient(#00ffd6 0%,#00feff 14.26%,#0042ff 76.38%,#0010ff 89.67%,#0003ff 95.52%,#00f 100%)"></i><i style="background:linear-gradient(#00ffd7 0%,#00feff 14.12%,#0042ff 76.31%,#01f 89.6%,#0003ff 95.45%,#00f 100%)"></i><i style="background:linear-gradient(#00ffd7 0%,#00feff 13.98%,#0042ff 76.24%,#0010ff 89.6%,#0003ff 95.45%,#00f 100%)"></i><i style="background:linear-gradient(#00ffd8 0%,#00feff 13.84%,#0042ff 76.24%,#0010ff 89.6%,#0003ff 95.45%,#00f 100%)"></i><i style="background:linear-gradient(#00ffd8 0%,#00feff 13.71%,#0042ff 76.17%,#0010ff 89.6%,#0003ff 95.45%,#00f 100%)"></i><i style="background:linear-gradient(#00ffd9 0%,#00feff 13.5%,#0042ff 76.17%,#0010ff 89.6%,#0003ff 95.45%,#00f 100%)"></i><i style="background:linear-gradient(#00ffd9 0%,#00feff 13.36%,#0042ff 76.1%,#0010ff 89.53%,#0003ff 95.45%,#00f 100%)"></i></div>
<svg id="s" width="1817" height="1631" viewBox="0 0 1817 1631">
<path d="M190.0 50.9L1656.4 50.9L1661.8 57.9L1661.8 1489.5L1657.0 1494.8L191.5 1494.8L184.0 1487.0L184.0 57.0z" fill="none" stroke="#fff" stroke-opacity=".5" stroke-width="2.4" stroke-dasharray="3.3 1.65"/>
<g fill="none" stroke="#000" stroke-opacity=".95" stroke-linejoin="round"><path d="M194.0 1215.20 233.1 1215.18 252.7 1215.16 267.4 1215.14 277.1 1215.13 286.9 1215.11 296.7 1215.09 306.5 1215.08 316.3 1215.06 321.1 1215.05 326.0 1215.04 330.9 1215.03 335.8 1215.02 340.7 1215.01 345.6 1214.99 350.5 1214.98 355.4 1214.97 360.3 1214.96 365.2 1214.95 370.1 1214.93 374.9 1214.92 379.8 1214.91 384.7 1214.89 389.6 1214.88 394.5 1210.57 399.4 1210.56 404.3 1210.54 409.2 1210.53 414.1 1210.51 419.0 1210.49 423.8 1210.48 428.7 1210.46 433.6 1210.45 438.5 1210.43 443.4 1210.41 448.3 1210.40 453.2 1210.38 458.1 1210.36 463.0 1210.34 467.9 1210.32 472.7 1210.30 477.6 1210.29 482.5 1210.27 487.4 1210.25 492.3 1210.23 497.2 1210.21 502.1 1210.19 507.0 1210.17 511.9 1210.15 516.8 1210.12 521.7 1210.10 526.5 1205.79 531.4 1205.77 536.3 1205.75 541.2 1205.72 546.1 1205.70 551.0 1205.68 555.9 1205.65 560.8 1205.63 565.7 1205.61 570.6 1205.58 575.4 1205.56 580.3 1205.54 585.2 1205.51 590.1 1205.49 595.0 1205.46 599.9 1205.44 604.8 1205.41 609.7 1205.38 614.6 1205.36 619.5 1205.33 624.3 1201.01 629.2 1200.99 634.1 1200.96 639.0 1200.93 643.9 1200.90 648.8 1200.88 653.7 1200.85 658.6 1200.82 663.5 1200.79 668.4 1200.76 673.3 1200.73 678.1 1200.70 683.0 1200.67 687.9 1200.65 692.8 1200.62 697.7 1200.59 702.6 1196.26 707.5 1196.23 712.4 1196.20 717.3 1196.17 722.2 1196.14 727.0 1196.11 731.9 1196.07 736.8 1196.04 741.7 1196.01 746.6 1195.98 751.5 1195.94 756.4 1195.91 761.3 1195.88 766.2 1195.84 771.1 1195.81 775.9 1191.48 780.8 1191.45 785.7 1191.42 790.6 1191.38 795.5 1191.35 800.4 1191.31 805.3 1191.28 810.2 1191.24 815.1 1191.20 820.0 1191.17 824.9 1191.13 829.7 1191.10 834.6 1191.06 839.5 1191.02 844.4 1186.69 849.3 1186.65 854.2 1186.62 859.1 1186.58 864.0 1186.54 868.9 1186.50 873.8 1186.46 878.6 1186.42 883.5 1186.39 888.4 1186.35 893.3 1186.31 898.2 1186.27 903.1 1181.93 908.0 1181.89 912.9 1181.85 917.8 1181.81 922.7 1181.77 927.6 1181.73 932.4 1181.69 937.3 1181.65 942.2 1181.61 947.1 1181.56 952.0 1181.52 956.9 1177.19 961.8 1177.14 966.7 1177.10 971.6 1177.06 976.5 1177.01 981.3 1176.97 986.2 1176.93 991.1 1176.88 996.0 1176.84 1000.9 1176.79 1005.8 1176.75 1010.7 1172.41 1015.6 1172.37 1020.5 1172.32 1025.4 1172.28 1030.2 1172.23 1035.1 1172.18 1040.0 1172.14 1044.9 1172.09 1049.8 1172.05 1054.7 1172.00 1059.6 1171.95 1064.5 1167.61 1069.4 1167.56 1074.3 1167.52 1079.2 1167.47 1084.0 1167.42 1088.9 1167.37 1093.8 1167.32 1098.7 1167.27 1103.6 1167.22 1108.5 1167.17 1113.4 1162.83 1118.3 1162.78 1123.2 1162.73 1128.1 1162.68 1132.9 1162.63 1137.8 1162.58 1142.7 1162.53 1147.6 1162.48 1152.5 1162.43" stroke-width="1.6"/><path d="M194.0 957.56 198.9 957.57 203.8 957.58 213.6 957.60 233.1 957.62 267.4 957.60 277.1 957.59 286.9 957.57 291.8 957.56 296.7 957.54 301.6 957.53 306.5 957.52 311.4 957.50 316.3 957.48 321.1 957.47 326.0 957.45 330.9 957.43 335.8 957.41 340.7 957.38 345.6 957.36 350.5 957.34 355.4 957.31 360.3 957.29 365.2 957.26 370.1 953.03 374.9 953.01 379.8 952.98 384.7 952.95 389.6 952.91 394.5 952.88 399.4 952.85 404.3 952.81 409.2 952.78 414.1 952.74 419.0 952.71 423.8 952.67 428.7 952.63 433.6 952.59 438.5 952.55 443.4 952.51 448.3 948.27 453.2 948.23 458.1 948.18 463.0 948.14 467.9 948.09 472.7 948.05 477.6 948.00 482.5 947.95 487.4 947.90 492.3 947.85 497.2 947.80 502.1 947.75 507.0 943.50 511.9 943.45 516.8 943.40 521.7 943.34 526.5 943.29 531.4 943.23 536.3 943.17 541.2 943.12 546.1 943.06 551.0 943.00 555.9 942.94 560.8 938.68 565.7 938.62 570.6 938.56 575.4 938.50 580.3 938.43 585.2 938.37 590.1 938.30 595.0 938.24 599.9 938.17 604.8 933.91 609.7 933.84 614.6 933.77 619.5 933.70 624.3 933.63 629.2 933.56 634.1 933.49 639.0 933.42 643.9 929.15 648.8 929.07 653.7 929.00 658.6 928.92 663.5 928.85 668.4 928.77 673.3 928.70 678.1 924.42 683.0 924.34 687.9 924.26 692.8 924.18 697.7 924.10 702.6 924.02 707.5 923.94 712.4 923.86 717.3 919.58 722.2 919.49 727.0 919.41 731.9 919.33 736.8 919.24 741.7 919.15 746.6 914.87 751.5 914.78 756.4 914.69 761.3 914.61 766.2 914.52 771.1 914.43 775.9 914.34 780.8 910.05 785.7 909.96 790.6 909.86 795.5 909.77 800.4 909.68 805.3 909.58 810.2 905.29 815.1 905.20 820.0 905.10 824.9 905.00 829.7 904.91 834.6 904.81 839.5 900.51 844.4 900.41 849.3 900.32 854.2 900.22 859.1 900.12 864.0 900.01 868.9 895.71 873.8 895.61 878.6 895.51 883.5 895.41 888.4 895.30 893.3 891.00 898.2 890.90 903.1 890.79 908.0 890.68 912.9 890.58 917.8 890.47 922.7 886.17 927.6 886.06 932.4 885.95 937.3 885.84 942.2 885.73 947.1 881.42 952.0 881.31 956.9 881.20 961.8 881.09 966.7 880.98 971.6 876.66 976.5 876.55 981.3 876.44 986.2 876.32 991.1 876.21 996.0 871.90 1000.9 871.78 1005.8 871.66 1010.7 871.55 1015.6 871.43 1020.5 867.11 1025.4 867.00 1030.2 866.88 1035.1 866.76 1040.0 866.64 1044.9 862.32 1049.8 862.20 1054.7 862.08 1059.6 861.96 1064.5 857.64 1069.4 857.51 1074.3 857.39 1079.2 857.27 1084.0 857.14 1088.9 852.82 1093.8 852.70 1098.7 852.57 1103.6 852.45 1108.5 852.32 1113.4 848.00 1118.3 847.87 1123.2 847.74 1128.1 847.61 1132.9 843.29 1137.8 843.16 1142.7 843.03 1147.6 842.90 1152.5 842.77 1157.4 838.44 1162.3 838.31 1167.2 838.18 1172.1 838.05 1177.0 833.72 1181.8 833.58 1186.7 833.45 1191.6 833.32 1196.5 828.99 1201.4 828.85 1206.3 828.72 1211.2 828.58 1216.1 824.25 1221.0 824.11 1225.9 823.98 1230.8 823.84 1235.6 823.70 1240.5 819.37 1245.4 819.23 1250.3 819.09 1255.2 818.96 1260.1 814.62 1265.0 814.48 1269.9 814.34 1274.8 814.20 1279.7 809.86 1284.5 809.72 1289.4 809.58 1294.3 809.44 1299.2 805.10 1304.1 804.96 1309.0 804.81 1313.9 804.67 1318.8 800.33 1323.7 800.19 1328.6 800.04 1333.4 799.90 1338.3 795.56 1343.2 795.41 1348.1 795.27 1353.0 795.12 1357.9 790.78 1362.8 790.63 1367.7 790.49 1372.6 790.34 1377.5 785.99 1382.4 785.85 1387.2 785.70 1392.1 785.55 1397.0 781.20 1401.9 781.06 1406.8 780.91 1411.7 780.76 1416.6 776.41 1421.5 776.26 1426.4 776.11 1431.3 771.76 1436.1 771.61 1441.0 771.46 1445.9 771.31 1450.8 766.96 1455.7 766.81 1460.6 766.65 1465.5 766.50 1470.4 762.15 1475.3 762.00 1480.2 761.84 1485.0 761.69 1489.9 757.34 1494.8 757.18 1499.7 757.03 1504.6 752.68 1509.5 752.52 1514.4 752.37 1519.3 752.21 1524.2 747.86 1529.1 747.70 1534.0 747.55 1538.8 747.39 1543.7 743.03 1548.6 742.88 1553.5 742.72 1558.4 738.36 1563.3 738.21 1568.2 738.05 1573.1 737.89 1578.0 733.53 1582.9 733.37 1587.7 733.22 1592.6 733.06 1597.5 728.70 1602.4 728.54 1607.3 728.38 1612.2 724.02 1617.1 723.86 1622.0 723.70 1626.9 723.54 1631.8 719.18 1636.6 719.02 1641.5 718.86 1646.4 714.50 1651.3 714.34 1656.2 714.17" stroke-width="1.6"/><path d="M194.0 737.90 198.9 737.91 203.8 737.93 242.9 737.92 247.8 737.90 252.7 737.89 257.6 737.87 262.5 737.85 267.4 737.82 272.2 737.80 277.1 737.77 282.0 733.69 286.9 733.65 291.8 733.62 296.7 733.58 301.6 733.55 306.5 733.50 311.4 733.46 316.3 733.42 321.1 733.37 326.0 733.32 330.9 733.27 335.8 733.22 340.7 733.17 345.6 733.11 350.5 733.05 355.4 732.99 360.3 728.88 365.2 728.81 370.1 728.75 374.9 728.68 379.8 728.61 384.7 728.54 389.6 728.47 394.5 728.39 399.4 728.32 404.3 728.24 409.2 724.11 414.1 724.02 419.0 723.94 423.8 723.86 428.7 723.77 433.6 723.68 438.5 723.59 443.4 723.50 448.3 719.36 453.2 719.26 458.1 719.17 463.0 719.07 467.9 718.97 472.7 718.87 477.6 718.77 482.5 714.61 487.4 714.50 492.3 714.39 497.2 714.29 502.1 714.18 507.0 714.06 511.9 713.95 516.8 709.78 521.7 709.67 526.5 709.55 531.4 709.43 536.3 709.31 541.2 709.19 546.1 705.01 551.0 704.88 555.9 704.76 560.8 704.63 565.7 704.50 570.6 704.37 575.4 700.18 580.3 700.05 585.2 699.91 590.1 699.78 595.0 699.64 599.9 695.45 604.8 695.31 609.7 695.16 614.6 695.02 619.5 694.88 624.3 690.68 629.2 690.53 634.1 690.38 639.0 690.23 643.9 690.08 648.8 685.87 653.7 685.72 658.6 685.56 663.5 685.40 668.4 681.19 673.3 681.03 678.1 680.87 683.0 680.71 687.9 680.55 692.8 676.33 697.7 676.16 702.6 676.00 707.5 675.83 712.4 671.60 717.3 671.43 722.2 671.26 727.0 671.09 731.9 666.86 736.8 666.68 741.7 666.51 746.6 666.33 751.5 662.09 756.4 661.91 761.3 661.73 766.2 661.55 771.1 657.31 775.9 657.12 780.8 656.94 785.7 656.75 790.6 652.51 795.5 652.32 800.4 652.12 805.3 651.93 810.2 647.68 815.1 647.49 820.0 647.29 824.9 643.04 829.7 642.84 834.6 642.64 839.5 642.44 844.4 638.19 849.3 637.98 854.2 637.78 859.1 633.52 864.0 633.31 868.9 633.11 873.8 632.90 878.6 628.63 883.5 628.42 888.4 628.21 893.3 623.94 898.2 623.73 903.1 623.52 908.0 623.30 912.9 619.03 917.8 618.81 922.7 618.59 927.6 614.32 932.4 614.09 937.3 613.87 942.2 609.59 947.1 609.37 952.0 609.14 956.9 604.86 961.8 604.64 966.7 604.41 971.6 600.12 976.5 599.89 981.3 599.66 986.2 599.43 991.1 595.14 996.0 594.90 1000.9 594.67 1005.8 590.38 1010.7 590.14 1015.6 589.90 1020.5 585.61 1025.4 585.37 1030.2 585.12 1035.1 580.83 1040.0 580.58 1044.9 576.28 1049.8 576.04 1054.7 575.79 1059.6 571.49 1064.5 571.24 1069.4 570.99 1074.3 566.69 1079.2 566.44 1084.0 566.18 1088.9 561.88 1093.8 561.62 1098.7 561.37 1103.6 557.06 1108.5 556.80 1113.4 556.54 1118.3 552.23 1123.2 551.97 1128.1 547.65 1132.9 547.39 1137.8 547.13 1142.7 542.81 1147.6 542.55 1152.5 542.28 1157.4 537.96 1162.3 537.70 1167.2 537.43 1172.1 533.11 1177.0 532.84 1181.8 528.51 1186.7 528.24 1191.6 527.97 1196.5 523.64 1201.4 523.37 1206.3 519.04 1211.2 518.76 1216.1 518.49 1221.0 514.16 1225.9 513.88 1230.8 513.60 1235.6 509.27 1240.5 508.99 1245.4 504.65 1250.3 504.37 1255.2 504.09 1260.1 499.75 1265.0 499.46 1269.9 495.12 1274.8 494.84 1279.7 494.55 1284.5 490.21 1289.4 489.92 1294.3 485.58 1299.2 485.29 1304.1 484.99 1309.0 480.65 1313.9 480.36 1318.8 476.01 1323.7 475.71 1328.6 475.42 1333.4 471.07 1338.3 470.77 1343.2 466.42 1348.1 466.12 1353.0 461.77 1357.9 461.47 1362.8 461.17 1367.7 456.82 1372.6 456.52 1377.5 452.16 1382.4 451.86 1387.2 451.55 1392.1 447.19 1397.0 446.89 1401.9 442.53 1406.8 442.22 1411.7 437.86 1416.6 437.55 1421.5 437.24 1426.4 432.88 1431.3 432.57 1436.1 428.20 1441.0 427.89 1445.9 423.53 1450.8 423.21 1455.7 418.85 1460.6 418.53 1465.5 418.22 1470.4 413.85 1475.3 413.53 1480.2 409.16 1485.0 408.84 1489.9 404.47 1494.8 404.15 1499.7 399.78 1504.6 399.45 1509.5 399.13 1514.4 394.76 1519.3 394.44 1524.2 390.06 1529.1 389.74 1534.0 385.36 1538.8 385.03 1543.7 380.65 1548.6 380.33 1553.5 375.94 1558.4 375.62 1563.3 375.29 1568.2 370.91 1573.1 370.58 1578.0 366.19 1582.9 365.86 1587.7 361.48 1592.6 361.15 1597.5 356.76 1602.4 356.43 1607.3 352.04 1612.2 351.71 1617.1 347.32 1622.0 346.98 1626.9 346.65 1631.8 342.26 1636.6 341.92 1641.5 337.53 1646.4 337.19 1651.3 332.80 1656.2 332.46" stroke-width="1.6"/><path d="M194.0 556.60 198.9 556.62 233.1 556.60 238.0 556.58 242.9 556.56 247.8 556.53 252.7 556.50 257.6 552.41 262.5 552.38 267.4 552.34 272.2 552.29 277.1 552.25 282.0 552.20 286.9 552.15 291.8 552.09 296.7 552.03 301.6 551.97 306.5 551.90 311.4 551.84 316.3 551.77 321.1 547.64 326.0 547.56 330.9 547.48 335.8 547.40 340.7 547.32 345.6 547.23 350.5 547.14 355.4 547.05 360.3 546.96 365.2 542.80 370.1 542.70 374.9 542.60 379.8 542.49 384.7 542.39 389.6 542.28 394.5 538.11 399.4 537.99 404.3 537.88 409.2 537.76 414.1 537.63 419.0 537.51 423.8 533.32 428.7 533.19 433.6 533.06 438.5 532.93 443.4 532.79 448.3 532.65 453.2 528.45 458.1 528.31 463.0 528.16 467.9 528.01 472.7 523.81 477.6 523.65 482.5 523.49 487.4 523.34 492.3 523.18 497.2 518.96 502.1 518.79 507.0 518.62 511.9 518.45 516.8 514.23 521.7 514.05 526.5 513.88 531.4 513.70 536.3 509.46 541.2 509.28 546.1 509.09 551.0 508.91 555.9 504.66 560.8 504.47 565.7 504.27 570.6 504.08 575.4 499.82 580.3 499.62 585.2 499.42 590.1 495.16 595.0 494.95 599.9 494.74 604.8 494.53 609.7 490.26 614.6 490.05 619.5 489.83 624.3 485.56 629.2 485.33 634.1 485.11 639.0 480.83 643.9 480.60 648.8 480.37 653.7 476.08 658.6 475.85 663.5 475.61 668.4 471.32 673.3 471.08 678.1 470.84 683.0 466.54 687.9 466.29 692.8 466.04 697.7 461.73 702.6 461.48 707.5 461.23 712.4 456.91 717.3 456.66 722.2 456.39 727.0 452.08 731.9 451.81 736.8 447.49 741.7 447.22 746.6 446.95 751.5 442.62 756.4 442.35 761.3 442.07 766.2 437.74 771.1 437.46 775.9 433.12 780.8 432.83 785.7 432.55 790.6 428.20 795.5 427.91 800.4 423.57 805.3 423.27 810.2 422.98 815.1 418.62 820.0 418.32 824.9 413.97 829.7 413.66 834.6 409.30 839.5 409.00 844.4 408.69 849.3 404.32 854.2 404.01 859.1 399.64 864.0 399.32 868.9 394.95 873.8 394.63 878.6 390.26 883.5 389.93 888.4 389.61 893.3 385.23 898.2 384.90 903.1 380.52 908.0 380.19 912.9 375.80 917.8 375.46 922.7 371.07 927.6 370.74 932.4 366.34 937.3 366.00 942.2 361.60 947.1 361.26 952.0 356.86 956.9 356.51 961.8 356.16 966.7 351.76 971.6 351.41 976.5 347.00 981.3 346.64 986.2 342.23 991.1 341.88 996.0 337.46 1000.9 337.10 1005.8 332.69 1010.7 332.32 1015.6 327.90 1020.5 327.54 1025.4 323.12 1030.2 318.69 1035.1 318.32 1040.0 313.90 1044.9 313.52 1049.8 309.09 1054.7 308.72 1059.6 304.29 1064.5 303.91 1069.4 299.48 1074.3 299.10 1079.2 294.66 1084.0 294.28 1088.9 289.84 1093.8 289.45 1098.7 285.01 1103.6 284.62 1108.5 280.18 1113.4 275.73 1118.3 275.34 1123.2 270.89 1128.1 270.50 1132.9 266.05 1137.8 265.65 1142.7 261.20 1147.6 260.80 1152.5 256.35 1157.4 251.89 1162.3 251.49 1167.2 247.03 1172.1 246.63 1177.0 242.17 1181.8 241.76 1186.7 237.30 1191.6 232.84 1196.5 232.43 1201.4 227.97 1206.3 227.55 1211.2 223.09 1216.1 222.67 1221.0 218.21 1225.9 213.74 1230.8 213.32 1235.6 208.85 1240.5 208.43 1245.4 203.96 1250.3 203.54 1255.2 199.06 1260.1 194.59 1265.0 194.16 1269.9 189.68 1274.8 189.26 1279.7 184.78 1284.5 180.30 1289.4 179.87 1294.3 175.39 1299.2 174.96 1304.1 170.48 1309.0 166.00 1313.9 165.56 1318.8 161.08 1323.7 160.65 1328.6 156.16 1333.4 151.67 1338.3 151.24 1343.2 146.75 1348.1 146.31 1353.0 141.82 1357.9 137.33 1362.8 136.89 1367.7 132.40 1372.6 127.90 1377.5 127.46 1382.4 122.97 1387.2 122.53 1392.1 118.03 1397.0 113.53 1401.9 113.09 1406.8 108.59 1411.7 108.15 1416.6 103.65 1421.5 99.15 1426.4 98.70 1431.3 94.20 1436.1 89.70 1441.0 89.25 1445.9 84.75 1450.8 84.30 1455.7 79.80 1460.6 75.29 1465.5 74.84 1470.4 70.34 1475.3 65.83 1480.2 65.38 1485.0 60.87 1489.9 60.41" stroke-width="1.6"/><path d="M194.0 413.64 213.6 413.63 218.5 413.61 223.3 413.58 228.2 413.54 233.1 413.50 238.0 413.45 242.9 413.40 247.8 413.34 252.7 413.27 257.6 409.39 262.5 409.31 267.4 409.23 272.2 409.14 277.1 409.04 282.0 408.94 286.9 408.84 291.8 408.73 296.7 408.61 301.6 404.68 306.5 404.55 311.4 404.42 316.3 404.28 321.1 404.14 326.0 403.99 330.9 403.84 335.8 399.86 340.7 399.70 345.6 399.53 350.5 399.36 355.4 399.18 360.3 399.00 365.2 395.00 370.1 394.80 374.9 394.60 379.8 394.40 384.7 394.19 389.6 390.17 394.5 389.95 399.4 389.73 404.3 389.50 409.2 385.45 414.1 385.22 419.0 384.98 423.8 384.73 428.7 380.66 433.6 380.41 438.5 380.15 443.4 379.89 448.3 375.80 453.2 375.53 458.1 375.25 463.0 371.15 467.9 370.86 472.7 370.57 477.6 366.46 482.5 366.16 487.4 365.85 492.3 361.73 497.2 361.41 502.1 361.10 507.0 356.96 511.9 356.63 516.8 356.30 521.7 352.15 526.5 351.81 531.4 351.46 536.3 347.30 541.2 346.94 546.1 346.58 551.0 342.41 555.9 342.04 560.8 337.85 565.7 337.48 570.6 337.10 575.4 332.90 580.3 332.51 585.2 328.30 590.1 327.91 595.0 327.51 599.9 323.29 604.8 322.88 609.7 318.65 614.6 318.23 619.5 313.99 624.3 313.57 629.2 313.14 634.1 308.89 639.0 308.45 643.9 304.20 648.8 303.75 653.7 299.48 658.6 299.03 663.5 294.76 668.4 294.29 673.3 290.01 678.1 289.54 683.0 285.25 687.9 284.77 692.8 280.48 697.7 279.99 702.6 275.68 707.5 275.19 712.4 270.88 717.3 270.37 722.2 266.05 727.0 265.54 731.9 261.21 736.8 260.69 741.7 256.36 746.6 252.02 751.5 251.49 756.4 247.14 761.3 246.60 766.2 242.24 771.1 241.70 775.9 237.34 780.8 236.78 785.7 232.41 790.6 228.04 795.5 227.47 800.4 223.09 805.3 222.52 810.2 218.13 815.1 213.73 820.0 213.15 824.9 208.75 829.7 204.34 834.6 203.75 839.5 199.33 844.4 198.73 849.3 194.31 854.2 189.89 859.1 189.28 864.0 184.84 868.9 180.41 873.8 179.79 878.6 175.34 883.5 170.90 888.4 170.26 893.3 165.81 898.2 161.35 903.1 160.71 908.0 156.24 912.9 151.77 917.8 151.12 922.7 146.64 927.6 142.17 932.4 141.50 937.3 137.01 942.2 132.52 947.1 131.85 952.0 127.35 956.9 122.85 961.8 118.35 966.7 117.66 971.6 113.14 976.5 108.63 981.3 104.11 986.2 103.41 991.1 98.88 996.0 94.36 1000.9 89.82 1005.8 89.11 1010.7 84.57 1015.6 80.03 1020.5 75.48 1025.4 74.75 1030.2 70.20 1035.1 65.64 1040.0 61.08 1044.9 60.33" stroke-width="1.6"/><path d="M194.0 308.76 198.9 308.76 203.8 308.74 208.7 308.70 213.6 308.65 218.5 308.58 223.3 308.50 228.2 308.40 233.1 308.29 238.0 308.17 242.9 304.69 247.8 304.54 252.7 304.37 257.6 304.20 262.5 304.01 267.4 303.80 272.2 303.59 277.1 303.36 282.0 299.78 286.9 299.53 291.8 299.27 296.7 299.00 301.6 298.71 306.5 295.07 311.4 294.76 316.3 294.44 321.1 294.11 326.0 290.43 330.9 290.08 335.8 289.71 340.7 289.33 345.6 285.61 350.5 285.21 355.4 284.80 360.3 284.38 365.2 280.61 370.1 280.17 374.9 279.72 379.8 275.92 384.7 275.45 389.6 274.96 394.5 271.13 399.4 270.63 404.3 270.11 409.2 266.25 414.1 265.71 419.0 265.17 423.8 261.27 428.7 260.71 433.6 256.80 438.5 256.21 443.4 252.28 448.3 251.67 453.2 251.06 458.1 247.09 463.0 246.46 467.9 242.47 472.7 241.82 477.6 237.82 482.5 237.14 487.4 233.12 492.3 232.43 497.2 228.39 502.1 227.68 507.0 223.61 511.9 222.88 516.8 218.80 521.7 218.05 526.5 213.96 531.4 213.19 536.3 209.07 541.2 208.28 546.1 204.15 551.0 203.34 555.9 199.19 560.8 195.03 565.7 194.19 570.6 190.01 575.4 189.16 580.3 184.96 585.2 184.09 590.1 179.87 595.0 175.65 599.9 174.75 604.8 170.50 609.7 166.25 614.6 165.33 619.5 161.05 624.3 156.77 629.2 155.82 634.1 151.53 639.0 147.22 643.9 146.24 648.8 141.92 653.7 137.59 658.6 136.58 663.5 132.23 668.4 127.87 673.3 126.85 678.1 122.47 683.0 118.08 687.9 113.69 692.8 112.63 697.7 108.22 702.6 103.80 707.5 99.37 712.4 98.27 717.3 93.83 722.2 89.38 727.0 84.92 731.9 80.45 736.8 79.31 741.7 74.82 746.6 70.33 751.5 65.82 756.4 61.31 761.3 60.13" stroke-width="1.6"/><path d="M194.0 232.51 198.9 232.43 203.8 232.32 208.7 232.18 213.6 232.02 218.5 231.83 223.3 231.62 228.2 228.76 233.1 228.50 238.0 228.22 242.9 227.91 247.8 227.58 252.7 227.23 257.6 226.86 262.5 223.84 267.4 223.42 272.2 222.97 277.1 222.51 282.0 222.02 286.9 218.88 291.8 218.35 296.7 217.79 301.6 217.22 306.5 213.99 311.4 213.37 316.3 212.72 321.1 209.43 326.0 208.73 330.9 208.02 335.8 204.66 340.7 203.90 345.6 203.11 350.5 199.68 355.4 198.85 360.3 195.38 365.2 194.50 370.1 193.60 374.9 190.06 379.8 189.11 384.7 185.52 389.6 184.53 394.5 180.89 399.4 179.86 404.3 176.17 409.2 175.09 414.1 171.35 419.0 170.22 423.8 166.44 428.7 165.26 433.6 161.44 438.5 160.21 443.4 156.33 448.3 152.44 453.2 151.14 458.1 147.19 463.0 145.84 467.9 141.85 472.7 137.83 477.6 136.41 482.5 132.34 487.4 128.24 492.3 126.75 497.2 122.60 502.1 118.44 507.0 114.24 511.9 112.65 516.8 108.41 521.7 104.14 526.5 99.85 531.4 98.15 536.3 93.81 541.2 89.44 546.1 85.04 551.0 80.62 555.9 78.80 560.8 74.33 565.7 69.83 570.6 65.31 575.4 60.76" stroke-width="1.85"/><path d="M228.2 174.78 233.1 174.49 238.0 174.14 242.9 171.83 247.8 171.37 252.7 170.85 257.6 170.28 262.5 169.65 267.4 167.06 272.2 166.32 277.1 165.52 282.0 164.67 286.9 161.85 291.8 160.88 296.7 159.86 301.6 156.87 306.5 155.73 311.4 152.62 316.3 151.37 321.1 150.05 326.0 146.78 330.9 145.35 335.8 141.96 340.7 138.51 345.6 136.91 350.5 133.34 355.4 131.63 360.3 127.94 365.2 124.21 370.1 122.32 374.9 118.46 379.8 114.55 384.7 112.49 389.6 108.47 394.5 104.38 399.4 100.24 404.3 97.95 409.2 93.70 414.1 89.39 419.0 85.02 423.8 80.59 428.7 76.11 433.6 71.57 438.5 66.97 443.4 64.22 448.3 59.51" stroke-width="1.85"/><path d="M223.3 136.57 228.2 135.88 233.1 133.90 238.0 133.03 242.9 132.07 247.8 131.03 252.7 128.70 257.6 127.47 262.5 126.15 267.4 123.55 272.2 122.04 277.1 119.25 282.0 117.56 286.9 114.58 291.8 112.70 296.7 109.52 301.6 107.45 306.5 104.08 311.4 100.61 316.3 98.23 321.1 94.56 326.0 90.79 330.9 88.11 335.8 84.13 340.7 80.05 345.6 75.86 350.5 71.57 355.4 67.17 360.3 63.86 365.2 59.25" stroke-width="1.85"/><path d="M194.0 112.50 198.9 112.44 203.8 112.16 208.7 111.66 213.6 110.25 218.5 109.36 223.3 108.28 228.2 107.02 233.1 104.88 238.0 103.30 242.9 100.85 247.8 98.97 252.7 96.96 257.6 94.11 262.5 91.14 267.4 88.79 272.2 85.62 277.1 83.08 282.0 79.75 286.9 76.34 291.8 73.59 296.7 70.07" stroke-width="1.85"/><path d="M203.8 92.28 208.7 91.58 213.6 90.61 218.5 89.36 223.3 87.83 228.2 86.02 233.1 83.93 238.0 81.57 242.9 78.93 247.8 76.01 252.7 72.81 257.6 69.33" stroke-width="3.0"/></g>
<path d="M178 1486.7H183.2M194.0 1495.3V1502.8M178 1343.6H183.2M340.7 1495.3V1502.8M178 1200.5H183.2M487.4 1495.3V1502.8M178 1057.4H183.2M634.1 1495.3V1502.8M178 914.3H183.2M780.8 1495.3V1502.8M178 771.2H183.2M927.5 1495.3V1502.8M178 628.1H183.2M1074.3 1495.3V1502.8M178 485.0H183.2M1221.0 1495.3V1502.8M178 341.9H183.2M1367.7 1495.3V1502.8M178 198.8H183.2M1514.4 1495.3V1502.8M178 55.7H183.2M1661.1 1495.3V1502.8" stroke="#000" stroke-width="1.7" fill="none"/>
<text transform="translate(148.60 1501.80) scale(1.228 1)" text-anchor="middle" font-family="Liberation Sans, sans-serif" font-weight="bold" font-size="44.20">0</text>
<text transform="translate(194.30 1545.80) scale(1.228 1)" text-anchor="middle" font-family="Liberation Sans, sans-serif" font-weight="bold" font-size="44.20">0</text>
<text transform="translate(102.23 1358.70) scale(1.228 1)" text-anchor="middle" font-family="Liberation Sans, sans-serif" font-weight="bold" font-size="44.20">0</text><rect x="120.59" y="1350.04" width="7.67" height="8.66"/><path d="M138.65 1358.70H160.96V1352.79H153.86V1327.90H142.65V1327.90L138.65 1329.72V1334.70H145.24V1352.79H138.65z"/>
<text transform="translate(317.82 1545.80) scale(1.228 1)" text-anchor="middle" font-family="Liberation Sans, sans-serif" font-weight="bold" font-size="44.20">0</text><rect x="336.18" y="1537.14" width="7.67" height="8.66"/><path d="M354.25 1545.80H376.56V1539.88H369.46V1515.00H358.25V1515.00L354.25 1516.82V1521.80H360.84V1539.88H354.25z"/>
<text transform="translate(102.23 1215.60) scale(1.228 1)" text-anchor="middle" font-family="Liberation Sans, sans-serif" font-weight="bold" font-size="44.20">0</text><rect x="120.59" y="1206.94" width="7.67" height="8.66"/><text transform="translate(148.60 1215.60) scale(1.228 1)" text-anchor="middle" font-family="Liberation Sans, sans-serif" font-weight="bold" font-size="44.20">2</text>
<text transform="translate(464.53 1545.80) scale(1.228 1)" text-anchor="middle" font-family="Liberation Sans, sans-serif" font-weight="bold" font-size="44.20">0</text><rect x="482.89" y="1537.14" width="7.67" height="8.66"/><text transform="translate(510.91 1545.80) scale(1.228 1)" text-anchor="middle" font-family="Liberation Sans, sans-serif" font-weight="bold" font-size="44.20">2</text>
<text transform="translate(102.23 1072.50) scale(1.228 1)" text-anchor="middle" font-family="Liberation Sans, sans-serif" font-weight="bold" font-size="44.20">0</text><rect x="120.59" y="1063.84" width="7.67" height="8.66"/><text transform="translate(148.60 1072.50) scale(1.228 1)" text-anchor="middle" font-family="Liberation Sans, sans-serif" font-weight="bold" font-size="44.20">3</text>
<text transform="translate(611.24 1545.80) scale(1.228 1)" text-anchor="middle" font-family="Liberation Sans, sans-serif" font-weight="bold" font-size="44.20">0</text><rect x="629.60" y="1537.14" width="7.67" height="8.66"/><text transform="translate(657.62 1545.80) scale(1.228 1)" text-anchor="middle" font-family="Liberation Sans, sans-serif" font-weight="bold" font-size="44.20">3</text>
<text transform="translate(102.23 929.40) scale(1.228 1)" text-anchor="middle" font-family="Liberation Sans, sans-serif" font-weight="bold" font-size="44.20">0</text><rect x="120.59" y="920.74" width="7.67" height="8.66"/><text transform="translate(148.60 929.40) scale(1.228 1)" text-anchor="middle" font-family="Liberation Sans, sans-serif" font-weight="bold" font-size="44.20">4</text>
<text transform="translate(757.95 1545.80) scale(1.228 1)" text-anchor="middle" font-family="Liberation Sans, sans-serif" font-weight="bold" font-size="44.20">0</text><rect x="776.31" y="1537.14" width="7.67" height="8.66"/><text transform="translate(804.33 1545.80) scale(1.228 1)" text-anchor="middle" font-family="Liberation Sans, sans-serif" font-weight="bold" font-size="44.20">4</text>
<text transform="translate(102.23 786.30) scale(1.228 1)" text-anchor="middle" font-family="Liberation Sans, sans-serif" font-weight="bold" font-size="44.20">0</text><rect x="120.59" y="777.64" width="7.67" height="8.66"/><text transform="translate(148.60 786.30) scale(1.228 1)" text-anchor="middle" font-family="Liberation Sans, sans-serif" font-weight="bold" font-size="44.20">5</text>
<text transform="translate(904.66 1545.80) scale(1.228 1)" text-anchor="middle" font-family="Liberation Sans, sans-serif" font-weight="bold" font-size="44.20">0</text><rect x="923.02" y="1537.14" width="7.67" height="8.66"/><text transform="translate(951.04 1545.80) scale(1.228 1)" text-anchor="middle" font-family="Liberation Sans, sans-serif" font-weight="bold" font-size="44.20">5</text>
<text transform="translate(102.23 643.20) scale(1.228 1)" text-anchor="middle" font-family="Liberation Sans, sans-serif" font-weight="bold" font-size="44.20">0</text><rect x="120.59" y="634.54" width="7.67" height="8.66"/><text transform="translate(148.60 643.20) scale(1.228 1)" text-anchor="middle" font-family="Liberation Sans, sans-serif" font-weight="bold" font-size="44.20">6</text>
<text transform="translate(1051.37 1545.80) scale(1.228 1)" text-anchor="middle" font-family="Liberation Sans, sans-serif" font-weight="bold" font-size="44.20">0</text><rect x="1069.73" y="1537.14" width="7.67" height="8.66"/><text transform="translate(1097.75 1545.80) scale(1.228 1)" text-anchor="middle" font-family="Liberation Sans, sans-serif" font-weight="bold" font-size="44.20">6</text>
<text transform="translate(102.23 500.10) scale(1.228 1)" text-anchor="middle" font-family="Liberation Sans, sans-serif" font-weight="bold" font-size="44.20">0</text><rect x="120.59" y="491.44" width="7.67" height="8.66"/><text transform="translate(148.60 500.10) scale(1.228 1)" text-anchor="middle" font-family="Liberation Sans, sans-serif" font-weight="bold" font-size="44.20">7</text>
<text transform="translate(1198.08 1545.80) scale(1.228 1)" text-anchor="middle" font-family="Liberation Sans, sans-serif" font-weight="bold" font-size="44.20">0</text><rect x="1216.44" y="1537.14" width="7.67" height="8.66"/><text transform="translate(1244.46 1545.80) scale(1.228 1)" text-anchor="middle" font-family="Liberation Sans, sans-serif" font-weight="bold" font-size="44.20">7</text>
<text transform="translate(102.23 357.00) scale(1.228 1)" text-anchor="middle" font-family="Liberation Sans, sans-serif" font-weight="bold" font-size="44.20">0</text><rect x="120.59" y="348.34" width="7.67" height="8.66"/><text transform="translate(148.60 357.00) scale(1.228 1)" text-anchor="middle" font-family="Liberation Sans, sans-serif" font-weight="bold" font-size="44.20">8</text>
<text transform="translate(1344.79 1545.80) scale(1.228 1)" text-anchor="middle" font-family="Liberation Sans, sans-serif" font-weight="bold" font-size="44.20">0</text><rect x="1363.15" y="1537.14" width="7.67" height="8.66"/><text transform="translate(1391.17 1545.80) scale(1.228 1)" text-anchor="middle" font-family="Liberation Sans, sans-serif" font-weight="bold" font-size="44.20">8</text>
<text transform="translate(102.23 213.90) scale(1.228 1)" text-anchor="middle" font-family="Liberation Sans, sans-serif" font-weight="bold" font-size="44.20">0</text><rect x="120.59" y="205.24" width="7.67" height="8.66"/><text transform="translate(148.60 213.90) scale(1.228 1)" text-anchor="middle" font-family="Liberation Sans, sans-serif" font-weight="bold" font-size="44.20">9</text>
<text transform="translate(1491.50 1545.80) scale(1.228 1)" text-anchor="middle" font-family="Liberation Sans, sans-serif" font-weight="bold" font-size="44.20">0</text><rect x="1509.86" y="1537.14" width="7.67" height="8.66"/><text transform="translate(1537.88 1545.80) scale(1.228 1)" text-anchor="middle" font-family="Liberation Sans, sans-serif" font-weight="bold" font-size="44.20">9</text>
<path d="M138.65 70.80H160.96V64.88H153.86V40.00H142.65V40.00L138.65 41.82V46.80H145.24V64.88H138.65z"/>
<path d="M1649.35 1545.80H1671.66V1539.88H1664.56V1515.00H1653.35V1515.00L1649.35 1516.82V1521.80H1655.94V1539.88H1649.35z"/>
<text transform="translate(484.20 1614.30) scale(1.134 1)" font-family="Liberation Sans, sans-serif" font-weight="bold" font-size="44.5">Normalized</text>
<text transform="translate(771.61 1614.30) scale(1.14 1)" font-family="Liberation Sans, sans-serif" font-weight="bold" font-size="44.5">distance</text>
<text transform="translate(991.14 1614.30) scale(1.143 1)" font-family="Liberation Sans, sans-serif" font-weight="bold" font-size="44.5">from</text>
<text transform="translate(1118.97 1614.30) scale(1.162 1)" font-family="Liberation Sans, sans-serif" font-weight="bold" font-size="44.5">center</text>
<text transform="translate(1290.07 1614.30) scale(1.257 1)" font-family="Liberation Sans, sans-serif" font-weight="bold" font-size="44.5">(r*)</text>
<text transform="translate(46.80 1222.50) rotate(-90) scale(1.132 1)" font-family="Liberation Sans, sans-serif" font-weight="bold" font-size="44.5">Normalized</text>
<text transform="translate(46.80 931.17) rotate(-90) scale(1.126 1)" font-family="Liberation Sans, sans-serif" font-weight="bold" font-size="44.5">distance</text>
<text transform="translate(46.80 714.09) rotate(-90) scale(1.185 1)" font-family="Liberation Sans, sans-serif" font-weight="bold" font-size="44.5">to</text>
<text transform="translate(46.80 649.34) rotate(-90) scale(1.165 1)" font-family="Liberation Sans, sans-serif" font-weight="bold" font-size="44.5">substrate</text>
<text transform="translate(46.80 404.29) rotate(-90) scale(1.24 1)" font-family="Liberation Sans, sans-serif" font-weight="bold" font-size="44.5">(z*)</text>
<text transform="translate(237.95 47.70) scale(1.318 1)" text-anchor="middle" font-family="Liberation Serif, serif" font-size="26.4">0.55</text>
<text transform="translate(307.70 47.70) scale(1.347 1)" text-anchor="middle" font-family="Liberation Serif, serif" font-size="26.4">0.5</text>
<text transform="translate(376.95 47.70) scale(1.318 1)" text-anchor="middle" font-family="Liberation Serif, serif" font-size="26.4">0.45</text>
<text transform="translate(457.00 47.70) scale(1.45 1)" text-anchor="middle" font-family="Liberation Serif, serif" font-size="26.4">0.4</text>
<text transform="translate(576.95 47.70) scale(1.318 1)" text-anchor="middle" font-family="Liberation Serif, serif" font-size="26.4">0.35</text>
<text transform="translate(767.00 47.70) scale(1.425 1)" text-anchor="middle" font-family="Liberation Serif, serif" font-size="26.4">0.3</text>
<text transform="translate(1049.00 47.70) scale(1.361 1)" text-anchor="middle" font-family="Liberation Serif, serif" font-size="26.4">0.25</text>
<text transform="translate(1485.50 47.70) scale(1.36 1)" text-anchor="middle" font-family="Liberation Serif, serif" font-size="26.4">0.2</text>
<text transform="translate(1539.10 359.00) scale(1.334 1)" text-anchor="middle" font-family="Liberation Serif, serif" font-size="26.4">0.15</text>
<text transform="translate(1529.70 727.00) scale(1.295 1)" text-anchor="middle" font-family="Liberation Serif, serif" font-size="26.4">0.1</text>
<defs><linearGradient id="cb" gradientUnits="userSpaceOnUse" x1="0" y1="220.7" x2="0" y2="1387.7"><stop offset="0" stop-color="#f00"/><stop offset=".34" stop-color="#ff0"/><stop offset=".672" stop-color="#0f0"/><stop offset=".838" stop-color="#0ff"/><stop offset="1" stop-color="#00f"/></linearGradient></defs>
<rect x="1778" y="213.2" width="22.2" height="1182.8" rx="11" ry="8.5" fill="url(#cb)"/>
<text transform="translate(1742.40 1402.70) scale(1.228 1)" text-anchor="middle" font-family="Liberation Sans, sans-serif" font-weight="bold" font-size="44.20">0</text>
<text transform="translate(1696.03 1286.00) scale(1.228 1)" text-anchor="middle" font-family="Liberation Sans, sans-serif" font-weight="bold" font-size="44.20">0</text><rect x="1714.39" y="1277.34" width="7.67" height="8.66"/><path d="M1732.45 1286.00H1754.76V1280.09H1747.66V1255.20H1736.45V1255.20L1732.45 1257.02V1262.00H1739.04V1280.09H1732.45z"/>
<text transform="translate(1696.03 1169.30) scale(1.228 1)" text-anchor="middle" font-family="Liberation Sans, sans-serif" font-weight="bold" font-size="44.20">0</text><rect x="1714.39" y="1160.64" width="7.67" height="8.66"/><text transform="translate(1742.40 1169.30) scale(1.228 1)" text-anchor="middle" font-family="Liberation Sans, sans-serif" font-weight="bold" font-size="44.20">2</text>
<text transform="translate(1696.03 1052.60) scale(1.228 1)" text-anchor="middle" font-family="Liberation Sans, sans-serif" font-weight="bold" font-size="44.20">0</text><rect x="1714.39" y="1043.94" width="7.67" height="8.66"/><text transform="translate(1742.40 1052.60) scale(1.228 1)" text-anchor="middle" font-family="Liberation Sans, sans-serif" font-weight="bold" font-size="44.20">3</text>
<text transform="translate(1696.03 935.90) scale(1.228 1)" text-anchor="middle" font-family="Liberation Sans, sans-serif" font-weight="bold" font-size="44.20">0</text><rect x="1714.39" y="927.24" width="7.67" height="8.66"/><text transform="translate(1742.40 935.90) scale(1.228 1)" text-anchor="middle" font-family="Liberation Sans, sans-serif" font-weight="bold" font-size="44.20">4</text>
<text transform="translate(1696.03 819.20) scale(1.228 1)" text-anchor="middle" font-family="Liberation Sans, sans-serif" font-weight="bold" font-size="44.20">0</text><rect x="1714.39" y="810.54" width="7.67" height="8.66"/><text transform="translate(1742.40 819.20) scale(1.228 1)" text-anchor="middle" font-family="Liberation Sans, sans-serif" font-weight="bold" font-size="44.20">5</text>
<text transform="translate(1696.03 702.50) scale(1.228 1)" text-anchor="middle" font-family="Liberation Sans, sans-serif" font-weight="bold" font-size="44.20">0</text><rect x="1714.39" y="693.84" width="7.67" height="8.66"/><text transform="translate(1742.40 702.50) scale(1.228 1)" text-anchor="middle" font-family="Liberation Sans, sans-serif" font-weight="bold" font-size="44.20">6</text>
<text transform="translate(1696.03 585.80) scale(1.228 1)" text-anchor="middle" font-family="Liberation Sans, sans-serif" font-weight="bold" font-size="44.20">0</text><rect x="1714.39" y="577.14" width="7.67" height="8.66"/><text transform="translate(1742.40 585.80) scale(1.228 1)" text-anchor="middle" font-family="Liberation Sans, sans-serif" font-weight="bold" font-size="44.20">7</text>
<text transform="translate(1696.03 469.10) scale(1.228 1)" text-anchor="middle" font-family="Liberation Sans, sans-serif" font-weight="bold" font-size="44.20">0</text><rect x="1714.39" y="460.44" width="7.67" height="8.66"/><text transform="translate(1742.40 469.10) scale(1.228 1)" text-anchor="middle" font-family="Liberation Sans, sans-serif" font-weight="bold" font-size="44.20">8</text>
<text transform="translate(1696.03 352.40) scale(1.228 1)" text-anchor="middle" font-family="Liberation Sans, sans-serif" font-weight="bold" font-size="44.20">0</text><rect x="1714.39" y="343.74" width="7.67" height="8.66"/><text transform="translate(1742.40 352.40) scale(1.228 1)" text-anchor="middle" font-family="Liberation Sans, sans-serif" font-weight="bold" font-size="44.20">9</text>
<path d="M1732.45 235.70H1754.76V229.79H1747.66V204.90H1736.45V204.90L1732.45 206.72V211.70H1739.04V229.79H1732.45z"/>
<path d="M1772 1387.7H1778.5M1772 1271.0H1778.5M1772 1154.3H1778.5M1772 1037.6H1778.5M1772 920.9H1778.5M1772 804.2H1778.5M1772 687.5H1778.5M1772 570.8H1778.5M1772 454.1H1778.5M1772 337.4H1778.5M1772 220.7H1778.5" stroke="#000" stroke-width="1.4" fill="none"/>
<rect x="1151.5" y="1015.2" width="509.8" height="478.3" fill="#fff" stroke="#3a3a3a" stroke-width="1.7"/>
<defs><radialGradient id="hot" gradientUnits="userSpaceOnUse" cx="1210" cy="1031" r="120"><stop offset="0" stop-color="#ff7a00"/><stop offset=".035" stop-color="#ff9a00"/><stop offset=".07" stop-color="#3f0"/><stop offset=".11" stop-color="#0f6"/><stop offset=".16" stop-color="#0ff"/><stop offset=".25" stop-color="#09f"/><stop offset=".4" stop-color="#04f"/><stop offset=".65" stop-color="#0024ff"/><stop offset="1" stop-color="#0014ff"/></radialGradient><linearGradient id="ib" gradientUnits="userSpaceOnUse" x1="1208" y1="1029" x2="1500" y2="1330"><stop offset="0" stop-color="#0014ff"/><stop offset="1" stop-color="#0004ff"/></linearGradient><clipPath id="ic"><path d="M1210 1029.3H1641a1.7 1.7 0 0 1 1.7 1.7V1456l-3 3H1211l-3-3V1031.3z"/></clipPath></defs>
<g clip-path="url(#ic)"><rect x="1207" y="1028" width="437" height="432" fill="url(#ib)"/><circle cx="1210" cy="1031" r="120" fill="url(#hot)"/></g>
<text transform="translate(1189.31 1459.50) scale(1.275 1)" text-anchor="middle" font-family="Liberation Sans, sans-serif" font-weight="bold" font-size="16.00">0</text>
<text transform="translate(1214.00 1481.20) scale(1.275 1)" text-anchor="middle" font-family="Liberation Sans, sans-serif" font-weight="bold" font-size="16.00">0</text>
<text transform="translate(1171.88 1375.34) scale(1.275 1)" text-anchor="middle" font-family="Liberation Sans, sans-serif" font-weight="bold" font-size="16.00">0</text><rect x="1178.78" y="1372.00" width="2.88" height="3.34"/><text transform="translate(1189.31 1375.34) scale(1.275 1)" text-anchor="middle" font-family="Liberation Sans, sans-serif" font-weight="bold" font-size="16.00">2</text>
<text transform="translate(1290.08 1481.20) scale(1.275 1)" text-anchor="middle" font-family="Liberation Sans, sans-serif" font-weight="bold" font-size="16.00">0</text><rect x="1296.99" y="1477.86" width="2.88" height="3.34"/><text transform="translate(1307.52 1481.20) scale(1.275 1)" text-anchor="middle" font-family="Liberation Sans, sans-serif" font-weight="bold" font-size="16.00">2</text>
<text transform="translate(1171.88 1291.18) scale(1.275 1)" text-anchor="middle" font-family="Liberation Sans, sans-serif" font-weight="bold" font-size="16.00">0</text><rect x="1178.78" y="1287.84" width="2.88" height="3.34"/><text transform="translate(1189.31 1291.18) scale(1.275 1)" text-anchor="middle" font-family="Liberation Sans, sans-serif" font-weight="bold" font-size="16.00">4</text>
<text transform="translate(1374.88 1481.20) scale(1.275 1)" text-anchor="middle" font-family="Liberation Sans, sans-serif" font-weight="bold" font-size="16.00">0</text><rect x="1381.79" y="1477.86" width="2.88" height="3.34"/><text transform="translate(1392.32 1481.20) scale(1.275 1)" text-anchor="middle" font-family="Liberation Sans, sans-serif" font-weight="bold" font-size="16.00">4</text>
<text transform="translate(1171.88 1207.02) scale(1.275 1)" text-anchor="middle" font-family="Liberation Sans, sans-serif" font-weight="bold" font-size="16.00">0</text><rect x="1178.78" y="1203.68" width="2.88" height="3.34"/><text transform="translate(1189.31 1207.02) scale(1.275 1)" text-anchor="middle" font-family="Liberation Sans, sans-serif" font-weight="bold" font-size="16.00">6</text>
<text transform="translate(1459.68 1481.20) scale(1.275 1)" text-anchor="middle" font-family="Liberation Sans, sans-serif" font-weight="bold" font-size="16.00">0</text><rect x="1466.59" y="1477.86" width="2.88" height="3.34"/><text transform="translate(1477.12 1481.20) scale(1.275 1)" text-anchor="middle" font-family="Liberation Sans, sans-serif" font-weight="bold" font-size="16.00">6</text>
<text transform="translate(1171.88 1122.86) scale(1.275 1)" text-anchor="middle" font-family="Liberation Sans, sans-serif" font-weight="bold" font-size="16.00">0</text><rect x="1178.78" y="1119.52" width="2.88" height="3.34"/><text transform="translate(1189.31 1122.86) scale(1.275 1)" text-anchor="middle" font-family="Liberation Sans, sans-serif" font-weight="bold" font-size="16.00">8</text>
<text transform="translate(1544.48 1481.20) scale(1.275 1)" text-anchor="middle" font-family="Liberation Sans, sans-serif" font-weight="bold" font-size="16.00">0</text><rect x="1551.39" y="1477.86" width="2.88" height="3.34"/><text transform="translate(1561.92 1481.20) scale(1.275 1)" text-anchor="middle" font-family="Liberation Sans, sans-serif" font-weight="bold" font-size="16.00">8</text>
<path d="M1185.57 1038.70H1193.96V1036.42H1191.29V1026.82H1187.08V1026.82L1185.57 1027.52V1029.44H1188.05V1036.42H1185.57z"/>
<path d="M1634.26 1481.20H1642.65V1478.92H1639.98V1469.32H1635.76V1469.32L1634.26 1470.02V1471.94H1636.74V1478.92H1634.26z"/>
<path d="M1205 1453.6H1208.5M1214.0 1458.5V1462.3M1205 1369.4H1208.5M1298.8 1458.5V1462.3M1205 1285.3H1208.5M1383.6 1458.5V1462.3M1205 1201.1H1208.5M1468.4 1458.5V1462.3M1205 1117.0H1208.5M1553.2 1458.5V1462.3M1205 1032.8H1208.5M1638.0 1458.5V1462.3" stroke="#777" stroke-width="1" fill="none"/>
</svg></div></body></html>
